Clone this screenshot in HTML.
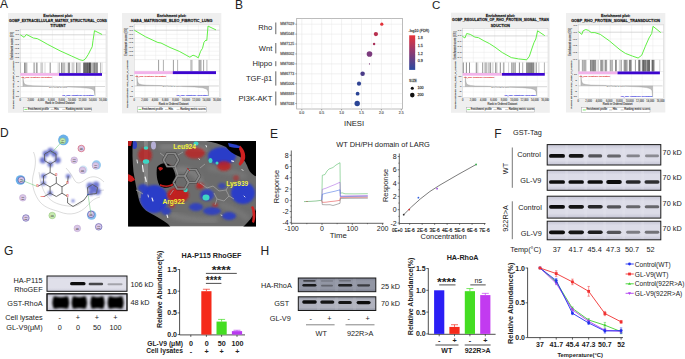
<!DOCTYPE html><html><head><meta charset="utf-8"><style>html,body{margin:0;padding:0;background:#fff;}body{width:685px;height:359px;overflow:hidden;position:relative;font-family:"Liberation Sans", sans-serif;}svg text{font-family:"Liberation Sans", sans-serif;}</style></head><body><svg width="685" height="359" viewBox="0 0 685 359" style="position:absolute;left:0;top:0;font-family:'Liberation Sans', sans-serif">
<rect x="0.00" y="0.00" width="685.00" height="359.00" fill="#ffffff" stroke="none" stroke-width="0" />
<text x="0.00" y="4.35" font-size="12" text-anchor="start" font-weight="normal" fill="#222" dominant-baseline="central" >A</text>
<text x="235.00" y="4.65" font-size="12" text-anchor="start" font-weight="normal" fill="#222" dominant-baseline="central" >B</text>
<text x="431.90" y="5.00" font-size="11.5" text-anchor="start" font-weight="normal" fill="#222" dominant-baseline="central" >C</text>
<text x="0.00" y="133.35" font-size="12" text-anchor="start" font-weight="normal" fill="#222" dominant-baseline="central" >D</text>
<text x="269.90" y="134.00" font-size="12" text-anchor="start" font-weight="normal" fill="#222" dominant-baseline="central" >E</text>
<rect x="8.00" y="13.00" width="100.00" height="99.80" fill="#efefef" stroke="none" stroke-width="0" />
<text x="58.00" y="15.60" font-size="3.7" text-anchor="middle" font-weight="bold" fill="#111" dominant-baseline="central"  stroke="#111" stroke-width="0.259" stroke-opacity="0.6">Enrichment plot:</text>
<text x="58.00" y="20.60" font-size="3.7" text-anchor="middle" font-weight="bold" fill="#111" dominant-baseline="central" textLength="98.0" lengthAdjust="spacingAndGlyphs" stroke="#111" stroke-width="0.259" stroke-opacity="0.6">GOMF_EXTRACELLULAR_MATRIX_STRUCTURAL_CONS</text>
<text x="58.00" y="26.20" font-size="3.7" text-anchor="middle" font-weight="bold" fill="#111" dominant-baseline="central"  stroke="#111" stroke-width="0.259" stroke-opacity="0.6">TITUENT</text>
<rect x="20.30" y="29.30" width="85.70" height="67.90" fill="#ffffff" stroke="#bbbbbb" stroke-width="0.3" />
<line x1="31.01" y1="29.30" x2="31.01" y2="62.30" stroke="#e6e6e6" stroke-width="0.4" />
<line x1="31.01" y1="75.80" x2="31.01" y2="97.20" stroke="#eeeeee" stroke-width="0.4" />
<line x1="41.73" y1="29.30" x2="41.73" y2="62.30" stroke="#e6e6e6" stroke-width="0.4" />
<line x1="41.73" y1="75.80" x2="41.73" y2="97.20" stroke="#eeeeee" stroke-width="0.4" />
<line x1="52.44" y1="29.30" x2="52.44" y2="62.30" stroke="#e6e6e6" stroke-width="0.4" />
<line x1="52.44" y1="75.80" x2="52.44" y2="97.20" stroke="#eeeeee" stroke-width="0.4" />
<line x1="63.15" y1="29.30" x2="63.15" y2="62.30" stroke="#e6e6e6" stroke-width="0.4" />
<line x1="63.15" y1="75.80" x2="63.15" y2="97.20" stroke="#eeeeee" stroke-width="0.4" />
<line x1="73.86" y1="29.30" x2="73.86" y2="62.30" stroke="#e6e6e6" stroke-width="0.4" />
<line x1="73.86" y1="75.80" x2="73.86" y2="97.20" stroke="#eeeeee" stroke-width="0.4" />
<line x1="84.58" y1="29.30" x2="84.58" y2="62.30" stroke="#e6e6e6" stroke-width="0.4" />
<line x1="84.58" y1="75.80" x2="84.58" y2="97.20" stroke="#eeeeee" stroke-width="0.4" />
<line x1="95.29" y1="29.30" x2="95.29" y2="62.30" stroke="#e6e6e6" stroke-width="0.4" />
<line x1="95.29" y1="75.80" x2="95.29" y2="97.20" stroke="#eeeeee" stroke-width="0.4" />
<line x1="20.30" y1="30.20" x2="106.00" y2="30.20" stroke="#e6e6e6" stroke-width="0.4" />
<line x1="20.30" y1="34.80" x2="106.00" y2="34.80" stroke="#e6e6e6" stroke-width="0.4" />
<line x1="20.30" y1="39.40" x2="106.00" y2="39.40" stroke="#e6e6e6" stroke-width="0.4" />
<line x1="20.30" y1="44.00" x2="106.00" y2="44.00" stroke="#e6e6e6" stroke-width="0.4" />
<line x1="20.30" y1="48.60" x2="106.00" y2="48.60" stroke="#e6e6e6" stroke-width="0.4" />
<line x1="20.30" y1="53.20" x2="106.00" y2="53.20" stroke="#e6e6e6" stroke-width="0.4" />
<line x1="20.30" y1="57.80" x2="106.00" y2="57.80" stroke="#e6e6e6" stroke-width="0.4" />
<line x1="20.30" y1="81.15" x2="106.00" y2="81.15" stroke="#eeeeee" stroke-width="0.4" />
<line x1="20.30" y1="86.50" x2="106.00" y2="86.50" stroke="#eeeeee" stroke-width="0.4" />
<line x1="20.30" y1="91.85" x2="106.00" y2="91.85" stroke="#eeeeee" stroke-width="0.4" />
<line x1="20.30" y1="62.30" x2="106.00" y2="62.30" stroke="#cccccc" stroke-width="0.3" />
<line x1="20.30" y1="73.10" x2="106.00" y2="73.10" stroke="#cccccc" stroke-width="0.3" />
<line x1="20.30" y1="34.80" x2="106.00" y2="34.80" stroke="#999999" stroke-width="0.3" />
<line x1="20.60" y1="62.60" x2="20.60" y2="73.10" stroke="#000" stroke-width="0.45" stroke-opacity="0.34"/>
<line x1="24.60" y1="62.60" x2="24.60" y2="73.10" stroke="#000" stroke-width="0.45" stroke-opacity="1.00"/>
<line x1="25.40" y1="62.60" x2="25.40" y2="73.10" stroke="#000" stroke-width="0.45" stroke-opacity="0.57"/>
<line x1="26.20" y1="62.60" x2="26.20" y2="73.10" stroke="#000" stroke-width="0.45" stroke-opacity="0.57"/>
<line x1="27.00" y1="62.60" x2="27.00" y2="73.10" stroke="#000" stroke-width="0.45" stroke-opacity="0.46"/>
<line x1="34.10" y1="62.60" x2="34.10" y2="73.10" stroke="#000" stroke-width="0.45" stroke-opacity="1.00"/>
<line x1="36.40" y1="62.60" x2="36.40" y2="73.10" stroke="#000" stroke-width="0.45" stroke-opacity="0.69"/>
<line x1="37.20" y1="62.60" x2="37.20" y2="73.10" stroke="#000" stroke-width="0.45" stroke-opacity="0.69"/>
<line x1="40.70" y1="62.60" x2="40.70" y2="73.10" stroke="#000" stroke-width="0.45" stroke-opacity="0.34"/>
<line x1="41.70" y1="62.60" x2="41.70" y2="73.10" stroke="#000" stroke-width="0.45" stroke-opacity="0.46"/>
<line x1="42.60" y1="62.60" x2="42.60" y2="73.10" stroke="#000" stroke-width="0.45" stroke-opacity="0.40"/>
<line x1="45.00" y1="62.60" x2="45.00" y2="73.10" stroke="#000" stroke-width="0.45" stroke-opacity="0.34"/>
<line x1="50.20" y1="62.60" x2="50.20" y2="73.10" stroke="#000" stroke-width="0.45" stroke-opacity="0.98"/>
<line x1="58.10" y1="62.60" x2="58.10" y2="73.10" stroke="#000" stroke-width="0.45" stroke-opacity="0.34"/>
<line x1="59.40" y1="62.60" x2="59.40" y2="73.10" stroke="#000" stroke-width="0.45" stroke-opacity="0.57"/>
<line x1="61.50" y1="62.60" x2="61.50" y2="73.10" stroke="#000" stroke-width="0.45" stroke-opacity="0.92"/>
<line x1="62.50" y1="62.60" x2="62.50" y2="73.10" stroke="#000" stroke-width="0.45" stroke-opacity="0.57"/>
<line x1="63.50" y1="62.60" x2="63.50" y2="73.10" stroke="#000" stroke-width="0.45" stroke-opacity="0.57"/>
<line x1="64.50" y1="62.60" x2="64.50" y2="73.10" stroke="#000" stroke-width="0.45" stroke-opacity="0.57"/>
<line x1="65.90" y1="62.60" x2="65.90" y2="73.10" stroke="#000" stroke-width="0.45" stroke-opacity="0.34"/>
<line x1="68.20" y1="62.60" x2="68.20" y2="73.10" stroke="#000" stroke-width="0.45" stroke-opacity="0.92"/>
<line x1="69.00" y1="62.60" x2="69.00" y2="73.10" stroke="#000" stroke-width="0.45" stroke-opacity="0.92"/>
<line x1="69.60" y1="62.60" x2="69.60" y2="73.10" stroke="#000" stroke-width="0.45" stroke-opacity="0.69"/>
<line x1="72.00" y1="62.60" x2="72.00" y2="73.10" stroke="#000" stroke-width="0.45" stroke-opacity="0.40"/>
<line x1="73.00" y1="62.60" x2="73.00" y2="73.10" stroke="#000" stroke-width="0.45" stroke-opacity="0.46"/>
<line x1="74.00" y1="62.60" x2="74.00" y2="73.10" stroke="#000" stroke-width="0.45" stroke-opacity="0.40"/>
<line x1="76.50" y1="62.60" x2="76.50" y2="73.10" stroke="#000" stroke-width="0.45" stroke-opacity="0.98"/>
<line x1="77.50" y1="62.60" x2="77.50" y2="73.10" stroke="#000" stroke-width="0.45" stroke-opacity="0.46"/>
<line x1="78.50" y1="62.60" x2="78.50" y2="73.10" stroke="#000" stroke-width="0.45" stroke-opacity="0.40"/>
<line x1="79.50" y1="62.60" x2="79.50" y2="73.10" stroke="#000" stroke-width="0.45" stroke-opacity="0.46"/>
<line x1="80.50" y1="62.60" x2="80.50" y2="73.10" stroke="#000" stroke-width="0.45" stroke-opacity="0.34"/>
<line x1="83.57" y1="62.60" x2="83.57" y2="73.10" stroke="#000" stroke-width="0.45" stroke-opacity="0.98"/>
<line x1="84.18" y1="62.60" x2="84.18" y2="73.10" stroke="#000" stroke-width="0.45" stroke-opacity="0.78"/>
<line x1="84.61" y1="62.60" x2="84.61" y2="73.10" stroke="#000" stroke-width="0.45" stroke-opacity="0.85"/>
<line x1="85.12" y1="62.60" x2="85.12" y2="73.10" stroke="#000" stroke-width="0.45" stroke-opacity="0.96"/>
<line x1="85.49" y1="62.60" x2="85.49" y2="73.10" stroke="#000" stroke-width="0.45" stroke-opacity="0.70"/>
<line x1="86.13" y1="62.60" x2="86.13" y2="73.10" stroke="#000" stroke-width="0.45" stroke-opacity="0.84"/>
<line x1="86.59" y1="62.60" x2="86.59" y2="73.10" stroke="#000" stroke-width="0.45" stroke-opacity="0.69"/>
<line x1="87.01" y1="62.60" x2="87.01" y2="73.10" stroke="#000" stroke-width="0.45" stroke-opacity="0.94"/>
<line x1="87.45" y1="62.60" x2="87.45" y2="73.10" stroke="#000" stroke-width="0.45" stroke-opacity="1.00"/>
<line x1="88.07" y1="62.60" x2="88.07" y2="73.10" stroke="#000" stroke-width="0.45" stroke-opacity="0.70"/>
<line x1="88.38" y1="62.60" x2="88.38" y2="73.10" stroke="#000" stroke-width="0.45" stroke-opacity="0.88"/>
<line x1="89.05" y1="62.60" x2="89.05" y2="73.10" stroke="#000" stroke-width="0.45" stroke-opacity="0.82"/>
<line x1="89.43" y1="62.60" x2="89.43" y2="73.10" stroke="#000" stroke-width="0.45" stroke-opacity="1.00"/>
<line x1="89.76" y1="62.60" x2="89.76" y2="73.10" stroke="#000" stroke-width="0.45" stroke-opacity="1.00"/>
<line x1="90.20" y1="62.60" x2="90.20" y2="73.10" stroke="#000" stroke-width="0.45" stroke-opacity="1.00"/>
<line x1="90.67" y1="62.60" x2="90.67" y2="73.10" stroke="#000" stroke-width="0.45" stroke-opacity="0.82"/>
<line x1="91.12" y1="62.60" x2="91.12" y2="73.10" stroke="#000" stroke-width="0.45" stroke-opacity="0.91"/>
<line x1="92.56" y1="62.60" x2="92.56" y2="73.10" stroke="#000" stroke-width="0.45" stroke-opacity="0.56"/>
<line x1="93.28" y1="62.60" x2="93.28" y2="73.10" stroke="#000" stroke-width="0.45" stroke-opacity="0.71"/>
<line x1="93.86" y1="62.60" x2="93.86" y2="73.10" stroke="#000" stroke-width="0.45" stroke-opacity="0.60"/>
<line x1="94.54" y1="62.60" x2="94.54" y2="73.10" stroke="#000" stroke-width="0.45" stroke-opacity="0.79"/>
<line x1="94.97" y1="62.60" x2="94.97" y2="73.10" stroke="#000" stroke-width="0.45" stroke-opacity="0.64"/>
<line x1="95.71" y1="62.60" x2="95.71" y2="73.10" stroke="#000" stroke-width="0.45" stroke-opacity="0.75"/>
<line x1="96.36" y1="62.60" x2="96.36" y2="73.10" stroke="#000" stroke-width="0.45" stroke-opacity="0.67"/>
<line x1="96.95" y1="62.60" x2="96.95" y2="73.10" stroke="#000" stroke-width="0.45" stroke-opacity="0.74"/>
<line x1="97.46" y1="62.60" x2="97.46" y2="73.10" stroke="#000" stroke-width="0.45" stroke-opacity="0.71"/>
<line x1="100.50" y1="62.60" x2="100.50" y2="73.10" stroke="#000" stroke-width="0.45" stroke-opacity="0.57"/>
<line x1="102.00" y1="62.60" x2="102.00" y2="73.10" stroke="#000" stroke-width="0.45" stroke-opacity="0.34"/>
<rect x="20.30" y="73.10" width="38.70" height="2.70" fill="#f2b3ea" stroke="none" stroke-width="0" />
<rect x="59.00" y="73.10" width="43.00" height="2.70" fill="#3d05cf" stroke="none" stroke-width="0" />
<path d="M22.90,86.50 L22.90,76.60 L23.40,81.00 L24.10,83.30 L25.40,84.50 L27.90,85.20 L32.90,85.70 L55.34,86.30 L62.56,86.80 L80.58,87.50 L89.00,88.30 L93.00,89.50 L94.40,91.50 L95.00,95.70 L95.00,86.50" stroke="#777" stroke-width="0.25" fill="#bdbdbd" />
<line x1="20.30" y1="86.50" x2="105.00" y2="86.50" stroke="#888" stroke-width="0.3" />
<text x="58.00" y="86.50" font-size="2.2" text-anchor="middle" font-weight="normal" fill="#555" dominant-baseline="central" style="paint-order:stroke" stroke="#fff" stroke-width="0.6">Zero cross at 7861</text>
<text x="21.30" y="77.40" font-size="2.3" text-anchor="start" font-weight="normal" fill="#e03030" dominant-baseline="central"  stroke="#e03030" stroke-width="0.161" stroke-opacity="0.6">'na_pos' (positively correlated)</text>
<text x="78.00" y="95.00" font-size="2.3" text-anchor="middle" font-weight="normal" fill="#3030e0" dominant-baseline="central"  stroke="#3030e0" stroke-width="0.161" stroke-opacity="0.6">'na_neg' (negatively correlated)</text>
<path d="M20.30,34.80 L24.10,37.30 L26.40,34.50 L28.00,35.30 L33.30,38.00 L37.20,38.60 L41.00,40.60 L47.90,44.50 L60.00,50.80 L71.50,56.00 L79.90,59.80 L83.00,60.50 L85.30,59.00 L88.30,54.40 L90.60,49.80 L92.20,46.80 L93.00,40.60 L94.50,30.70 L102.10,34.50" stroke="#5aee3c" stroke-width="0.95" fill="none" stroke-linejoin="round"/>
<text x="11.90" y="45.80" font-size="2.8" text-anchor="middle" font-weight="normal" fill="#444" dominant-baseline="central" transform="rotate(-90 11.9 45.8)" stroke="#444" stroke-width="0.196" stroke-opacity="0.6">Enrichment score (ES)</text>
<text x="13.20" y="84.65" font-size="2.5" text-anchor="middle" font-weight="normal" fill="#444" dominant-baseline="central" transform="rotate(-90 13.2 84.7)" stroke="#444" stroke-width="0.175" stroke-opacity="0.6">Ranked list metric (log2_Ratio_of_Classes)</text>
<text x="18.90" y="30.20" font-size="2.5" text-anchor="end" font-weight="normal" fill="#555" dominant-baseline="central"  stroke="#555" stroke-width="0.175" stroke-opacity="0.6">0.1</text>
<line x1="19.50" y1="30.20" x2="20.30" y2="30.20" stroke="#777" stroke-width="0.25" />
<text x="18.90" y="34.80" font-size="2.5" text-anchor="end" font-weight="normal" fill="#555" dominant-baseline="central"  stroke="#555" stroke-width="0.175" stroke-opacity="0.6">0.0</text>
<line x1="19.50" y1="34.80" x2="20.30" y2="34.80" stroke="#777" stroke-width="0.25" />
<text x="18.90" y="39.40" font-size="2.5" text-anchor="end" font-weight="normal" fill="#555" dominant-baseline="central"  stroke="#555" stroke-width="0.175" stroke-opacity="0.6">-0.1</text>
<line x1="19.50" y1="39.40" x2="20.30" y2="39.40" stroke="#777" stroke-width="0.25" />
<text x="18.90" y="44.00" font-size="2.5" text-anchor="end" font-weight="normal" fill="#555" dominant-baseline="central"  stroke="#555" stroke-width="0.175" stroke-opacity="0.6">-0.2</text>
<line x1="19.50" y1="44.00" x2="20.30" y2="44.00" stroke="#777" stroke-width="0.25" />
<text x="18.90" y="48.60" font-size="2.5" text-anchor="end" font-weight="normal" fill="#555" dominant-baseline="central"  stroke="#555" stroke-width="0.175" stroke-opacity="0.6">-0.3</text>
<line x1="19.50" y1="48.60" x2="20.30" y2="48.60" stroke="#777" stroke-width="0.25" />
<text x="18.90" y="53.20" font-size="2.5" text-anchor="end" font-weight="normal" fill="#555" dominant-baseline="central"  stroke="#555" stroke-width="0.175" stroke-opacity="0.6">-0.4</text>
<line x1="19.50" y1="53.20" x2="20.30" y2="53.20" stroke="#777" stroke-width="0.25" />
<text x="18.90" y="57.80" font-size="2.5" text-anchor="end" font-weight="normal" fill="#555" dominant-baseline="central"  stroke="#555" stroke-width="0.175" stroke-opacity="0.6">-0.5</text>
<line x1="19.50" y1="57.80" x2="20.30" y2="57.80" stroke="#777" stroke-width="0.25" />
<text x="18.90" y="62.40" font-size="2.5" text-anchor="end" font-weight="normal" fill="#555" dominant-baseline="central"  stroke="#555" stroke-width="0.175" stroke-opacity="0.6">-0.6</text>
<line x1="19.50" y1="62.40" x2="20.30" y2="62.40" stroke="#777" stroke-width="0.25" />
<text x="18.90" y="76.55" font-size="2.5" text-anchor="end" font-weight="normal" fill="#555" dominant-baseline="central"  stroke="#555" stroke-width="0.175" stroke-opacity="0.6">10</text>
<text x="18.90" y="81.52" font-size="2.5" text-anchor="end" font-weight="normal" fill="#555" dominant-baseline="central"  stroke="#555" stroke-width="0.175" stroke-opacity="0.6">5</text>
<text x="18.90" y="86.50" font-size="2.5" text-anchor="end" font-weight="normal" fill="#555" dominant-baseline="central"  stroke="#555" stroke-width="0.175" stroke-opacity="0.6">0</text>
<text x="18.90" y="91.48" font-size="2.5" text-anchor="end" font-weight="normal" fill="#555" dominant-baseline="central"  stroke="#555" stroke-width="0.175" stroke-opacity="0.6">-5</text>
<text x="18.90" y="96.45" font-size="2.5" text-anchor="end" font-weight="normal" fill="#555" dominant-baseline="central"  stroke="#555" stroke-width="0.175" stroke-opacity="0.6">-10</text>
<text x="20.30" y="100.20" font-size="2.6" text-anchor="middle" font-weight="normal" fill="#555" dominant-baseline="central"  stroke="#555" stroke-width="0.182" stroke-opacity="0.6">0</text>
<text x="30.65" y="100.20" font-size="2.6" text-anchor="middle" font-weight="normal" fill="#555" dominant-baseline="central"  stroke="#555" stroke-width="0.182" stroke-opacity="0.6">2,000</text>
<text x="41.00" y="100.20" font-size="2.6" text-anchor="middle" font-weight="normal" fill="#555" dominant-baseline="central"  stroke="#555" stroke-width="0.182" stroke-opacity="0.6">4,000</text>
<text x="51.34" y="100.20" font-size="2.6" text-anchor="middle" font-weight="normal" fill="#555" dominant-baseline="central"  stroke="#555" stroke-width="0.182" stroke-opacity="0.6">6,000</text>
<text x="61.69" y="100.20" font-size="2.6" text-anchor="middle" font-weight="normal" fill="#555" dominant-baseline="central"  stroke="#555" stroke-width="0.182" stroke-opacity="0.6">8,000</text>
<text x="72.04" y="100.20" font-size="2.6" text-anchor="middle" font-weight="normal" fill="#555" dominant-baseline="central"  stroke="#555" stroke-width="0.182" stroke-opacity="0.6">10,000</text>
<text x="82.39" y="100.20" font-size="2.6" text-anchor="middle" font-weight="normal" fill="#555" dominant-baseline="central"  stroke="#555" stroke-width="0.182" stroke-opacity="0.6">12,000</text>
<text x="92.74" y="100.20" font-size="2.6" text-anchor="middle" font-weight="normal" fill="#555" dominant-baseline="central"  stroke="#555" stroke-width="0.182" stroke-opacity="0.6">14,000</text>
<text x="103.09" y="100.20" font-size="2.6" text-anchor="middle" font-weight="normal" fill="#555" dominant-baseline="central"  stroke="#555" stroke-width="0.182" stroke-opacity="0.6">16,000</text>
<text x="60.00" y="103.80" font-size="2.7" text-anchor="middle" font-weight="normal" fill="#444" dominant-baseline="central"  stroke="#444" stroke-width="0.189" stroke-opacity="0.6">Rank in Ordered Dataset</text>
<rect x="23.40" y="107.40" width="68.20" height="4.00" fill="#fff" stroke="#888" stroke-width="0.35" />
<line x1="24.40" y1="109.40" x2="27.40" y2="109.40" stroke="#55e64a" stroke-width="0.8" />
<text x="28.00" y="109.40" font-size="2.6" text-anchor="start" font-weight="normal" fill="#333" dominant-baseline="central"  stroke="#333" stroke-width="0.182" stroke-opacity="0.6">Enrichment profile</text>
<line x1="50.68" y1="109.40" x2="53.68" y2="109.40" stroke="#444" stroke-width="0.3" />
<text x="54.28" y="109.40" font-size="2.6" text-anchor="start" font-weight="normal" fill="#333" dominant-baseline="central"  stroke="#333" stroke-width="0.182" stroke-opacity="0.6">Hits</text>
<line x1="62.27" y1="109.40" x2="65.27" y2="109.40" stroke="#bbb" stroke-width="0.8" />
<text x="65.87" y="109.40" font-size="2.6" text-anchor="start" font-weight="normal" fill="#333" dominant-baseline="central"  stroke="#333" stroke-width="0.182" stroke-opacity="0.6">Ranking metric scores</text>
<rect x="122.00" y="13.00" width="99.30" height="100.40" fill="#efefef" stroke="none" stroke-width="0" />
<text x="171.65" y="15.80" font-size="3.7" text-anchor="middle" font-weight="bold" fill="#111" dominant-baseline="central"  stroke="#111" stroke-width="0.259" stroke-opacity="0.6">Enrichment plot:</text>
<text x="171.65" y="20.80" font-size="3.7" text-anchor="middle" font-weight="bold" fill="#111" dominant-baseline="central" textLength="81.5" lengthAdjust="spacingAndGlyphs" stroke="#111" stroke-width="0.259" stroke-opacity="0.6">NABA_MATRISOME_BLEO_FIBROTIC_LUNG</text>
<rect x="134.30" y="24.20" width="85.50" height="73.30" fill="#ffffff" stroke="#bbbbbb" stroke-width="0.3" />
<line x1="144.99" y1="24.20" x2="144.99" y2="59.60" stroke="#e6e6e6" stroke-width="0.4" />
<line x1="144.99" y1="74.10" x2="144.99" y2="97.50" stroke="#eeeeee" stroke-width="0.4" />
<line x1="155.68" y1="24.20" x2="155.68" y2="59.60" stroke="#e6e6e6" stroke-width="0.4" />
<line x1="155.68" y1="74.10" x2="155.68" y2="97.50" stroke="#eeeeee" stroke-width="0.4" />
<line x1="166.36" y1="24.20" x2="166.36" y2="59.60" stroke="#e6e6e6" stroke-width="0.4" />
<line x1="166.36" y1="74.10" x2="166.36" y2="97.50" stroke="#eeeeee" stroke-width="0.4" />
<line x1="177.05" y1="24.20" x2="177.05" y2="59.60" stroke="#e6e6e6" stroke-width="0.4" />
<line x1="177.05" y1="74.10" x2="177.05" y2="97.50" stroke="#eeeeee" stroke-width="0.4" />
<line x1="187.74" y1="24.20" x2="187.74" y2="59.60" stroke="#e6e6e6" stroke-width="0.4" />
<line x1="187.74" y1="74.10" x2="187.74" y2="97.50" stroke="#eeeeee" stroke-width="0.4" />
<line x1="198.43" y1="24.20" x2="198.43" y2="59.60" stroke="#e6e6e6" stroke-width="0.4" />
<line x1="198.43" y1="74.10" x2="198.43" y2="97.50" stroke="#eeeeee" stroke-width="0.4" />
<line x1="209.11" y1="24.20" x2="209.11" y2="59.60" stroke="#e6e6e6" stroke-width="0.4" />
<line x1="209.11" y1="74.10" x2="209.11" y2="97.50" stroke="#eeeeee" stroke-width="0.4" />
<line x1="134.30" y1="26.00" x2="219.80" y2="26.00" stroke="#e6e6e6" stroke-width="0.4" />
<line x1="134.30" y1="30.20" x2="219.80" y2="30.20" stroke="#e6e6e6" stroke-width="0.4" />
<line x1="134.30" y1="34.40" x2="219.80" y2="34.40" stroke="#e6e6e6" stroke-width="0.4" />
<line x1="134.30" y1="38.60" x2="219.80" y2="38.60" stroke="#e6e6e6" stroke-width="0.4" />
<line x1="134.30" y1="42.80" x2="219.80" y2="42.80" stroke="#e6e6e6" stroke-width="0.4" />
<line x1="134.30" y1="47.00" x2="219.80" y2="47.00" stroke="#e6e6e6" stroke-width="0.4" />
<line x1="134.30" y1="51.20" x2="219.80" y2="51.20" stroke="#e6e6e6" stroke-width="0.4" />
<line x1="134.30" y1="55.40" x2="219.80" y2="55.40" stroke="#e6e6e6" stroke-width="0.4" />
<line x1="134.30" y1="79.95" x2="219.80" y2="79.95" stroke="#eeeeee" stroke-width="0.4" />
<line x1="134.30" y1="85.80" x2="219.80" y2="85.80" stroke="#eeeeee" stroke-width="0.4" />
<line x1="134.30" y1="91.65" x2="219.80" y2="91.65" stroke="#eeeeee" stroke-width="0.4" />
<line x1="134.30" y1="59.60" x2="219.80" y2="59.60" stroke="#cccccc" stroke-width="0.3" />
<line x1="134.30" y1="71.20" x2="219.80" y2="71.20" stroke="#cccccc" stroke-width="0.3" />
<line x1="134.30" y1="30.20" x2="219.80" y2="30.20" stroke="#999999" stroke-width="0.3" />
<line x1="158.60" y1="59.90" x2="158.60" y2="71.20" stroke="#000" stroke-width="0.45" stroke-opacity="0.86"/>
<line x1="163.40" y1="59.90" x2="163.40" y2="71.20" stroke="#000" stroke-width="0.45" stroke-opacity="0.69"/>
<line x1="173.40" y1="59.90" x2="173.40" y2="71.20" stroke="#000" stroke-width="0.45" stroke-opacity="0.86"/>
<line x1="177.60" y1="59.90" x2="177.60" y2="71.20" stroke="#000" stroke-width="0.45" stroke-opacity="0.63"/>
<line x1="190.60" y1="59.90" x2="190.60" y2="71.20" stroke="#000" stroke-width="0.45" stroke-opacity="0.46"/>
<line x1="191.50" y1="59.90" x2="191.50" y2="71.20" stroke="#000" stroke-width="0.45" stroke-opacity="0.46"/>
<line x1="192.30" y1="59.90" x2="192.30" y2="71.20" stroke="#000" stroke-width="0.45" stroke-opacity="0.40"/>
<line x1="198.80" y1="59.90" x2="198.80" y2="71.20" stroke="#000" stroke-width="0.45" stroke-opacity="0.57"/>
<line x1="199.60" y1="59.90" x2="199.60" y2="71.20" stroke="#000" stroke-width="0.45" stroke-opacity="0.63"/>
<line x1="200.40" y1="59.90" x2="200.40" y2="71.20" stroke="#000" stroke-width="0.45" stroke-opacity="0.57"/>
<line x1="201.20" y1="59.90" x2="201.20" y2="71.20" stroke="#000" stroke-width="0.45" stroke-opacity="0.57"/>
<line x1="203.60" y1="59.90" x2="203.60" y2="71.20" stroke="#000" stroke-width="0.45" stroke-opacity="0.80"/>
<line x1="206.90" y1="59.90" x2="206.90" y2="71.20" stroke="#000" stroke-width="0.45" stroke-opacity="0.63"/>
<rect x="134.30" y="71.20" width="38.50" height="2.90" fill="#f2b3ea" stroke="none" stroke-width="0" />
<rect x="172.80" y="71.20" width="43.20" height="2.90" fill="#3d05cf" stroke="none" stroke-width="0" />
<path d="M136.90,86.00 L136.90,74.90 L137.40,80.50 L138.10,82.80 L139.40,84.00 L141.90,84.70 L146.90,85.20 L169.12,85.80 L176.28,86.30 L194.18,87.00 L202.50,87.80 L206.50,89.00 L207.90,91.00 L208.50,96.00 L208.50,86.00" stroke="#777" stroke-width="0.25" fill="#bdbdbd" />
<line x1="134.30" y1="86.00" x2="218.80" y2="86.00" stroke="#888" stroke-width="0.3" />
<text x="171.65" y="86.00" font-size="2.2" text-anchor="middle" font-weight="normal" fill="#555" dominant-baseline="central" style="paint-order:stroke" stroke="#fff" stroke-width="0.6">Zero cross at 7861</text>
<text x="135.30" y="75.70" font-size="2.3" text-anchor="start" font-weight="normal" fill="#e03030" dominant-baseline="central"  stroke="#e03030" stroke-width="0.161" stroke-opacity="0.6">'na_pos' (positively correlated)</text>
<text x="192.20" y="95.30" font-size="2.3" text-anchor="middle" font-weight="normal" fill="#3030e0" dominant-baseline="central"  stroke="#3030e0" stroke-width="0.161" stroke-opacity="0.6">'na_neg' (negatively correlated)</text>
<path d="M134.30,30.20 L145.60,36.80 L157.90,42.50 L161.00,43.00 L170.00,47.50 L179.20,51.30 L189.90,57.20 L193.00,55.20 L195.30,56.00 L198.30,57.80 L200.60,51.30 L202.50,48.30 L204.00,42.20 L206.00,39.90 L206.80,40.60 L208.00,26.10 L216.00,29.90" stroke="#5aee3c" stroke-width="0.95" fill="none" stroke-linejoin="round"/>
<text x="125.70" y="41.90" font-size="2.8" text-anchor="middle" font-weight="normal" fill="#444" dominant-baseline="central" transform="rotate(-90 125.7 41.9)" stroke="#444" stroke-width="0.196" stroke-opacity="0.6">Enrichment score (ES)</text>
<text x="127.00" y="83.85" font-size="2.5" text-anchor="middle" font-weight="normal" fill="#444" dominant-baseline="central" transform="rotate(-90 127.0 83.8)" stroke="#444" stroke-width="0.175" stroke-opacity="0.6">Ranked list metric (log2_Ratio_of_Classes)</text>
<text x="132.90" y="26.00" font-size="2.5" text-anchor="end" font-weight="normal" fill="#555" dominant-baseline="central"  stroke="#555" stroke-width="0.175" stroke-opacity="0.6">0.1</text>
<line x1="133.50" y1="26.00" x2="134.30" y2="26.00" stroke="#777" stroke-width="0.25" />
<text x="132.90" y="30.20" font-size="2.5" text-anchor="end" font-weight="normal" fill="#555" dominant-baseline="central"  stroke="#555" stroke-width="0.175" stroke-opacity="0.6">0.0</text>
<line x1="133.50" y1="30.20" x2="134.30" y2="30.20" stroke="#777" stroke-width="0.25" />
<text x="132.90" y="34.40" font-size="2.5" text-anchor="end" font-weight="normal" fill="#555" dominant-baseline="central"  stroke="#555" stroke-width="0.175" stroke-opacity="0.6">-0.1</text>
<line x1="133.50" y1="34.40" x2="134.30" y2="34.40" stroke="#777" stroke-width="0.25" />
<text x="132.90" y="38.60" font-size="2.5" text-anchor="end" font-weight="normal" fill="#555" dominant-baseline="central"  stroke="#555" stroke-width="0.175" stroke-opacity="0.6">-0.2</text>
<line x1="133.50" y1="38.60" x2="134.30" y2="38.60" stroke="#777" stroke-width="0.25" />
<text x="132.90" y="42.80" font-size="2.5" text-anchor="end" font-weight="normal" fill="#555" dominant-baseline="central"  stroke="#555" stroke-width="0.175" stroke-opacity="0.6">-0.3</text>
<line x1="133.50" y1="42.80" x2="134.30" y2="42.80" stroke="#777" stroke-width="0.25" />
<text x="132.90" y="47.00" font-size="2.5" text-anchor="end" font-weight="normal" fill="#555" dominant-baseline="central"  stroke="#555" stroke-width="0.175" stroke-opacity="0.6">-0.4</text>
<line x1="133.50" y1="47.00" x2="134.30" y2="47.00" stroke="#777" stroke-width="0.25" />
<text x="132.90" y="51.20" font-size="2.5" text-anchor="end" font-weight="normal" fill="#555" dominant-baseline="central"  stroke="#555" stroke-width="0.175" stroke-opacity="0.6">-0.5</text>
<line x1="133.50" y1="51.20" x2="134.30" y2="51.20" stroke="#777" stroke-width="0.25" />
<text x="132.90" y="55.40" font-size="2.5" text-anchor="end" font-weight="normal" fill="#555" dominant-baseline="central"  stroke="#555" stroke-width="0.175" stroke-opacity="0.6">-0.6</text>
<line x1="133.50" y1="55.40" x2="134.30" y2="55.40" stroke="#777" stroke-width="0.25" />
<text x="132.90" y="75.12" font-size="2.5" text-anchor="end" font-weight="normal" fill="#555" dominant-baseline="central"  stroke="#555" stroke-width="0.175" stroke-opacity="0.6">10</text>
<text x="132.90" y="80.56" font-size="2.5" text-anchor="end" font-weight="normal" fill="#555" dominant-baseline="central"  stroke="#555" stroke-width="0.175" stroke-opacity="0.6">5</text>
<text x="132.90" y="86.00" font-size="2.5" text-anchor="end" font-weight="normal" fill="#555" dominant-baseline="central"  stroke="#555" stroke-width="0.175" stroke-opacity="0.6">0</text>
<text x="132.90" y="91.44" font-size="2.5" text-anchor="end" font-weight="normal" fill="#555" dominant-baseline="central"  stroke="#555" stroke-width="0.175" stroke-opacity="0.6">-5</text>
<text x="132.90" y="96.88" font-size="2.5" text-anchor="end" font-weight="normal" fill="#555" dominant-baseline="central"  stroke="#555" stroke-width="0.175" stroke-opacity="0.6">-10</text>
<text x="134.30" y="100.50" font-size="2.6" text-anchor="middle" font-weight="normal" fill="#555" dominant-baseline="central"  stroke="#555" stroke-width="0.182" stroke-opacity="0.6">0</text>
<text x="144.62" y="100.50" font-size="2.6" text-anchor="middle" font-weight="normal" fill="#555" dominant-baseline="central"  stroke="#555" stroke-width="0.182" stroke-opacity="0.6">2,000</text>
<text x="154.95" y="100.50" font-size="2.6" text-anchor="middle" font-weight="normal" fill="#555" dominant-baseline="central"  stroke="#555" stroke-width="0.182" stroke-opacity="0.6">4,000</text>
<text x="165.27" y="100.50" font-size="2.6" text-anchor="middle" font-weight="normal" fill="#555" dominant-baseline="central"  stroke="#555" stroke-width="0.182" stroke-opacity="0.6">6,000</text>
<text x="175.60" y="100.50" font-size="2.6" text-anchor="middle" font-weight="normal" fill="#555" dominant-baseline="central"  stroke="#555" stroke-width="0.182" stroke-opacity="0.6">8,000</text>
<text x="185.92" y="100.50" font-size="2.6" text-anchor="middle" font-weight="normal" fill="#555" dominant-baseline="central"  stroke="#555" stroke-width="0.182" stroke-opacity="0.6">10,000</text>
<text x="196.24" y="100.50" font-size="2.6" text-anchor="middle" font-weight="normal" fill="#555" dominant-baseline="central"  stroke="#555" stroke-width="0.182" stroke-opacity="0.6">12,000</text>
<text x="206.57" y="100.50" font-size="2.6" text-anchor="middle" font-weight="normal" fill="#555" dominant-baseline="central"  stroke="#555" stroke-width="0.182" stroke-opacity="0.6">14,000</text>
<text x="216.89" y="100.50" font-size="2.6" text-anchor="middle" font-weight="normal" fill="#555" dominant-baseline="central"  stroke="#555" stroke-width="0.182" stroke-opacity="0.6">16,000</text>
<text x="173.65" y="104.10" font-size="2.7" text-anchor="middle" font-weight="normal" fill="#444" dominant-baseline="central"  stroke="#444" stroke-width="0.189" stroke-opacity="0.6">Rank in Ordered Dataset</text>
<rect x="137.40" y="106.90" width="68.80" height="5.10" fill="#fff" stroke="#888" stroke-width="0.35" />
<line x1="138.40" y1="109.45" x2="141.40" y2="109.45" stroke="#55e64a" stroke-width="0.8" />
<text x="142.00" y="109.45" font-size="2.6" text-anchor="start" font-weight="normal" fill="#333" dominant-baseline="central"  stroke="#333" stroke-width="0.182" stroke-opacity="0.6">Enrichment profile</text>
<line x1="164.92" y1="109.45" x2="167.92" y2="109.45" stroke="#444" stroke-width="0.3" />
<text x="168.52" y="109.45" font-size="2.6" text-anchor="start" font-weight="normal" fill="#333" dominant-baseline="central"  stroke="#333" stroke-width="0.182" stroke-opacity="0.6">Hits</text>
<line x1="176.62" y1="109.45" x2="179.62" y2="109.45" stroke="#bbb" stroke-width="0.8" />
<text x="180.22" y="109.45" font-size="2.6" text-anchor="start" font-weight="normal" fill="#333" dominant-baseline="central"  stroke="#333" stroke-width="0.182" stroke-opacity="0.6">Ranking metric scores</text>
<rect x="451.00" y="12.70" width="98.80" height="100.10" fill="#efefef" stroke="none" stroke-width="0" />
<text x="500.40" y="15.50" font-size="3.7" text-anchor="middle" font-weight="bold" fill="#111" dominant-baseline="central"  stroke="#111" stroke-width="0.259" stroke-opacity="0.6">Enrichment plot:</text>
<text x="500.40" y="20.40" font-size="3.7" text-anchor="middle" font-weight="bold" fill="#111" dominant-baseline="central" textLength="96.8" lengthAdjust="spacingAndGlyphs" stroke="#111" stroke-width="0.259" stroke-opacity="0.6">GOBP_REGULATION_OF_RHO_PROTEIN_SIGNAL_TRAN</text>
<text x="500.40" y="26.00" font-size="3.7" text-anchor="middle" font-weight="bold" fill="#111" dominant-baseline="central"  stroke="#111" stroke-width="0.259" stroke-opacity="0.6">SDUCTION</text>
<rect x="462.70" y="28.60" width="85.30" height="69.00" fill="#ffffff" stroke="#bbbbbb" stroke-width="0.3" />
<line x1="473.36" y1="28.60" x2="473.36" y2="62.20" stroke="#e6e6e6" stroke-width="0.4" />
<line x1="473.36" y1="75.70" x2="473.36" y2="97.60" stroke="#eeeeee" stroke-width="0.4" />
<line x1="484.02" y1="28.60" x2="484.02" y2="62.20" stroke="#e6e6e6" stroke-width="0.4" />
<line x1="484.02" y1="75.70" x2="484.02" y2="97.60" stroke="#eeeeee" stroke-width="0.4" />
<line x1="494.69" y1="28.60" x2="494.69" y2="62.20" stroke="#e6e6e6" stroke-width="0.4" />
<line x1="494.69" y1="75.70" x2="494.69" y2="97.60" stroke="#eeeeee" stroke-width="0.4" />
<line x1="505.35" y1="28.60" x2="505.35" y2="62.20" stroke="#e6e6e6" stroke-width="0.4" />
<line x1="505.35" y1="75.70" x2="505.35" y2="97.60" stroke="#eeeeee" stroke-width="0.4" />
<line x1="516.01" y1="28.60" x2="516.01" y2="62.20" stroke="#e6e6e6" stroke-width="0.4" />
<line x1="516.01" y1="75.70" x2="516.01" y2="97.60" stroke="#eeeeee" stroke-width="0.4" />
<line x1="526.67" y1="28.60" x2="526.67" y2="62.20" stroke="#e6e6e6" stroke-width="0.4" />
<line x1="526.67" y1="75.70" x2="526.67" y2="97.60" stroke="#eeeeee" stroke-width="0.4" />
<line x1="537.34" y1="28.60" x2="537.34" y2="62.20" stroke="#e6e6e6" stroke-width="0.4" />
<line x1="537.34" y1="75.70" x2="537.34" y2="97.60" stroke="#eeeeee" stroke-width="0.4" />
<line x1="462.70" y1="30.40" x2="548.00" y2="30.40" stroke="#e6e6e6" stroke-width="0.4" />
<line x1="462.70" y1="35.90" x2="548.00" y2="35.90" stroke="#e6e6e6" stroke-width="0.4" />
<line x1="462.70" y1="41.40" x2="548.00" y2="41.40" stroke="#e6e6e6" stroke-width="0.4" />
<line x1="462.70" y1="46.90" x2="548.00" y2="46.90" stroke="#e6e6e6" stroke-width="0.4" />
<line x1="462.70" y1="52.40" x2="548.00" y2="52.40" stroke="#e6e6e6" stroke-width="0.4" />
<line x1="462.70" y1="57.90" x2="548.00" y2="57.90" stroke="#e6e6e6" stroke-width="0.4" />
<line x1="462.70" y1="81.17" x2="548.00" y2="81.17" stroke="#eeeeee" stroke-width="0.4" />
<line x1="462.70" y1="86.65" x2="548.00" y2="86.65" stroke="#eeeeee" stroke-width="0.4" />
<line x1="462.70" y1="92.12" x2="548.00" y2="92.12" stroke="#eeeeee" stroke-width="0.4" />
<line x1="462.70" y1="62.20" x2="548.00" y2="62.20" stroke="#cccccc" stroke-width="0.3" />
<line x1="462.70" y1="73.00" x2="548.00" y2="73.00" stroke="#cccccc" stroke-width="0.3" />
<line x1="462.70" y1="35.90" x2="548.00" y2="35.90" stroke="#999999" stroke-width="0.3" />
<line x1="463.30" y1="62.50" x2="463.30" y2="73.00" stroke="#000" stroke-width="0.45" stroke-opacity="1.00"/>
<line x1="466.40" y1="62.50" x2="466.40" y2="73.00" stroke="#000" stroke-width="0.45" stroke-opacity="1.00"/>
<line x1="469.50" y1="62.50" x2="469.50" y2="73.00" stroke="#000" stroke-width="0.45" stroke-opacity="0.92"/>
<line x1="476.30" y1="62.50" x2="476.30" y2="73.00" stroke="#000" stroke-width="0.45" stroke-opacity="1.00"/>
<line x1="477.80" y1="62.50" x2="477.80" y2="73.00" stroke="#000" stroke-width="0.45" stroke-opacity="0.46"/>
<line x1="482.70" y1="62.50" x2="482.70" y2="73.00" stroke="#000" stroke-width="0.45" stroke-opacity="0.92"/>
<line x1="484.70" y1="62.50" x2="484.70" y2="73.00" stroke="#000" stroke-width="0.45" stroke-opacity="0.46"/>
<line x1="485.50" y1="62.50" x2="485.50" y2="73.00" stroke="#000" stroke-width="0.45" stroke-opacity="0.46"/>
<line x1="486.30" y1="62.50" x2="486.30" y2="73.00" stroke="#000" stroke-width="0.45" stroke-opacity="0.46"/>
<line x1="487.00" y1="62.50" x2="487.00" y2="73.00" stroke="#000" stroke-width="0.45" stroke-opacity="0.46"/>
<line x1="489.00" y1="62.50" x2="489.00" y2="73.00" stroke="#000" stroke-width="0.45" stroke-opacity="0.92"/>
<line x1="490.60" y1="62.50" x2="490.60" y2="73.00" stroke="#000" stroke-width="0.45" stroke-opacity="0.92"/>
<line x1="492.90" y1="62.50" x2="492.90" y2="73.00" stroke="#000" stroke-width="0.45" stroke-opacity="0.46"/>
<line x1="495.50" y1="62.50" x2="495.50" y2="73.00" stroke="#000" stroke-width="0.45" stroke-opacity="0.80"/>
<line x1="496.80" y1="62.50" x2="496.80" y2="73.00" stroke="#000" stroke-width="0.45" stroke-opacity="0.69"/>
<line x1="500.30" y1="62.50" x2="500.30" y2="73.00" stroke="#000" stroke-width="0.45" stroke-opacity="1.00"/>
<line x1="503.40" y1="62.50" x2="503.40" y2="73.00" stroke="#000" stroke-width="0.45" stroke-opacity="0.69"/>
<line x1="504.30" y1="62.50" x2="504.30" y2="73.00" stroke="#000" stroke-width="0.45" stroke-opacity="0.40"/>
<line x1="508.60" y1="62.50" x2="508.60" y2="73.00" stroke="#000" stroke-width="0.45" stroke-opacity="0.40"/>
<line x1="511.50" y1="62.50" x2="511.50" y2="73.00" stroke="#000" stroke-width="0.45" stroke-opacity="0.69"/>
<line x1="512.50" y1="62.50" x2="512.50" y2="73.00" stroke="#000" stroke-width="0.45" stroke-opacity="0.57"/>
<line x1="513.50" y1="62.50" x2="513.50" y2="73.00" stroke="#000" stroke-width="0.45" stroke-opacity="0.69"/>
<line x1="514.50" y1="62.50" x2="514.50" y2="73.00" stroke="#000" stroke-width="0.45" stroke-opacity="0.57"/>
<line x1="515.50" y1="62.50" x2="515.50" y2="73.00" stroke="#000" stroke-width="0.45" stroke-opacity="0.69"/>
<line x1="519.40" y1="62.50" x2="519.40" y2="73.00" stroke="#000" stroke-width="0.45" stroke-opacity="1.00"/>
<line x1="522.70" y1="62.50" x2="522.70" y2="73.00" stroke="#000" stroke-width="0.45" stroke-opacity="0.69"/>
<line x1="526.50" y1="62.50" x2="526.50" y2="73.00" stroke="#000" stroke-width="0.45" stroke-opacity="0.80"/>
<line x1="527.30" y1="62.50" x2="527.30" y2="73.00" stroke="#000" stroke-width="0.45" stroke-opacity="0.92"/>
<line x1="528.20" y1="62.50" x2="528.20" y2="73.00" stroke="#000" stroke-width="0.45" stroke-opacity="1.00"/>
<line x1="529.00" y1="62.50" x2="529.00" y2="73.00" stroke="#000" stroke-width="0.45" stroke-opacity="0.92"/>
<line x1="529.80" y1="62.50" x2="529.80" y2="73.00" stroke="#000" stroke-width="0.45" stroke-opacity="1.00"/>
<line x1="530.60" y1="62.50" x2="530.60" y2="73.00" stroke="#000" stroke-width="0.45" stroke-opacity="0.92"/>
<line x1="531.50" y1="62.50" x2="531.50" y2="73.00" stroke="#000" stroke-width="0.45" stroke-opacity="0.92"/>
<line x1="532.30" y1="62.50" x2="532.30" y2="73.00" stroke="#000" stroke-width="0.45" stroke-opacity="1.00"/>
<line x1="533.20" y1="62.50" x2="533.20" y2="73.00" stroke="#000" stroke-width="0.45" stroke-opacity="0.92"/>
<line x1="533.90" y1="62.50" x2="533.90" y2="73.00" stroke="#000" stroke-width="0.45" stroke-opacity="0.92"/>
<line x1="536.20" y1="62.50" x2="536.20" y2="73.00" stroke="#000" stroke-width="0.45" stroke-opacity="1.00"/>
<line x1="538.90" y1="62.50" x2="538.90" y2="73.00" stroke="#000" stroke-width="0.45" stroke-opacity="0.46"/>
<line x1="544.40" y1="62.50" x2="544.40" y2="73.00" stroke="#000" stroke-width="0.45" stroke-opacity="0.69"/>
<rect x="462.70" y="73.00" width="39.30" height="2.70" fill="#f2b3ea" stroke="none" stroke-width="0" />
<rect x="502.00" y="73.00" width="42.80" height="2.70" fill="#3d05cf" stroke="none" stroke-width="0" />
<path d="M465.30,86.70 L465.30,76.50 L465.80,81.20 L466.50,83.50 L467.80,84.70 L470.30,85.40 L475.30,85.90 L497.43,86.50 L504.57,87.00 L522.42,87.70 L530.70,88.50 L534.70,89.70 L536.10,91.70 L536.70,96.10 L536.70,86.70" stroke="#777" stroke-width="0.25" fill="#bdbdbd" />
<line x1="462.70" y1="86.70" x2="547.00" y2="86.70" stroke="#888" stroke-width="0.3" />
<text x="500.40" y="86.70" font-size="2.2" text-anchor="middle" font-weight="normal" fill="#555" dominant-baseline="central" style="paint-order:stroke" stroke="#fff" stroke-width="0.6">Zero cross at 7861</text>
<text x="463.70" y="77.30" font-size="2.3" text-anchor="start" font-weight="normal" fill="#e03030" dominant-baseline="central"  stroke="#e03030" stroke-width="0.161" stroke-opacity="0.6">'na_pos' (positively correlated)</text>
<text x="520.20" y="95.40" font-size="2.3" text-anchor="middle" font-weight="normal" fill="#3030e0" dominant-baseline="central"  stroke="#3030e0" stroke-width="0.161" stroke-opacity="0.6">'na_neg' (negatively correlated)</text>
<path d="M462.30,36.20 L464.90,38.00 L466.70,33.50 L470.30,34.40 L474.90,37.10 L478.50,37.70 L483.90,40.80 L489.30,43.50 L495.00,47.20 L502.20,52.50 L511.30,57.60 L518.50,58.90 L526.70,59.80 L529.40,56.20 L532.10,48.00 L534.00,42.60 L535.80,39.00 L537.60,30.80 L544.80,35.70" stroke="#5aee3c" stroke-width="0.95" fill="none" stroke-linejoin="round"/>
<text x="454.60" y="45.40" font-size="2.8" text-anchor="middle" font-weight="normal" fill="#444" dominant-baseline="central" transform="rotate(-90 454.6 45.4)" stroke="#444" stroke-width="0.196" stroke-opacity="0.6">Enrichment score (ES)</text>
<text x="455.90" y="84.80" font-size="2.5" text-anchor="middle" font-weight="normal" fill="#444" dominant-baseline="central" transform="rotate(-90 455.9 84.8)" stroke="#444" stroke-width="0.175" stroke-opacity="0.6">Ranked list metric (log2_Ratio_of_Classes)</text>
<text x="461.30" y="30.40" font-size="2.5" text-anchor="end" font-weight="normal" fill="#555" dominant-baseline="central"  stroke="#555" stroke-width="0.175" stroke-opacity="0.6">0.1</text>
<line x1="461.90" y1="30.40" x2="462.70" y2="30.40" stroke="#777" stroke-width="0.25" />
<text x="461.30" y="35.90" font-size="2.5" text-anchor="end" font-weight="normal" fill="#555" dominant-baseline="central"  stroke="#555" stroke-width="0.175" stroke-opacity="0.6">0.0</text>
<line x1="461.90" y1="35.90" x2="462.70" y2="35.90" stroke="#777" stroke-width="0.25" />
<text x="461.30" y="41.40" font-size="2.5" text-anchor="end" font-weight="normal" fill="#555" dominant-baseline="central"  stroke="#555" stroke-width="0.175" stroke-opacity="0.6">-0.1</text>
<line x1="461.90" y1="41.40" x2="462.70" y2="41.40" stroke="#777" stroke-width="0.25" />
<text x="461.30" y="46.90" font-size="2.5" text-anchor="end" font-weight="normal" fill="#555" dominant-baseline="central"  stroke="#555" stroke-width="0.175" stroke-opacity="0.6">-0.2</text>
<line x1="461.90" y1="46.90" x2="462.70" y2="46.90" stroke="#777" stroke-width="0.25" />
<text x="461.30" y="52.40" font-size="2.5" text-anchor="end" font-weight="normal" fill="#555" dominant-baseline="central"  stroke="#555" stroke-width="0.175" stroke-opacity="0.6">-0.3</text>
<line x1="461.90" y1="52.40" x2="462.70" y2="52.40" stroke="#777" stroke-width="0.25" />
<text x="461.30" y="57.90" font-size="2.5" text-anchor="end" font-weight="normal" fill="#555" dominant-baseline="central"  stroke="#555" stroke-width="0.175" stroke-opacity="0.6">-0.4</text>
<line x1="461.90" y1="57.90" x2="462.70" y2="57.90" stroke="#777" stroke-width="0.25" />
<text x="461.30" y="76.51" font-size="2.5" text-anchor="end" font-weight="normal" fill="#555" dominant-baseline="central"  stroke="#555" stroke-width="0.175" stroke-opacity="0.6">10</text>
<text x="461.30" y="81.61" font-size="2.5" text-anchor="end" font-weight="normal" fill="#555" dominant-baseline="central"  stroke="#555" stroke-width="0.175" stroke-opacity="0.6">5</text>
<text x="461.30" y="86.70" font-size="2.5" text-anchor="end" font-weight="normal" fill="#555" dominant-baseline="central"  stroke="#555" stroke-width="0.175" stroke-opacity="0.6">0</text>
<text x="461.30" y="91.79" font-size="2.5" text-anchor="end" font-weight="normal" fill="#555" dominant-baseline="central"  stroke="#555" stroke-width="0.175" stroke-opacity="0.6">-5</text>
<text x="461.30" y="96.89" font-size="2.5" text-anchor="end" font-weight="normal" fill="#555" dominant-baseline="central"  stroke="#555" stroke-width="0.175" stroke-opacity="0.6">-10</text>
<text x="462.70" y="100.60" font-size="2.6" text-anchor="middle" font-weight="normal" fill="#555" dominant-baseline="central"  stroke="#555" stroke-width="0.182" stroke-opacity="0.6">0</text>
<text x="473.00" y="100.60" font-size="2.6" text-anchor="middle" font-weight="normal" fill="#555" dominant-baseline="central"  stroke="#555" stroke-width="0.182" stroke-opacity="0.6">2,000</text>
<text x="483.30" y="100.60" font-size="2.6" text-anchor="middle" font-weight="normal" fill="#555" dominant-baseline="central"  stroke="#555" stroke-width="0.182" stroke-opacity="0.6">4,000</text>
<text x="493.60" y="100.60" font-size="2.6" text-anchor="middle" font-weight="normal" fill="#555" dominant-baseline="central"  stroke="#555" stroke-width="0.182" stroke-opacity="0.6">6,000</text>
<text x="503.90" y="100.60" font-size="2.6" text-anchor="middle" font-weight="normal" fill="#555" dominant-baseline="central"  stroke="#555" stroke-width="0.182" stroke-opacity="0.6">8,000</text>
<text x="514.20" y="100.60" font-size="2.6" text-anchor="middle" font-weight="normal" fill="#555" dominant-baseline="central"  stroke="#555" stroke-width="0.182" stroke-opacity="0.6">10,000</text>
<text x="524.50" y="100.60" font-size="2.6" text-anchor="middle" font-weight="normal" fill="#555" dominant-baseline="central"  stroke="#555" stroke-width="0.182" stroke-opacity="0.6">12,000</text>
<text x="534.80" y="100.60" font-size="2.6" text-anchor="middle" font-weight="normal" fill="#555" dominant-baseline="central"  stroke="#555" stroke-width="0.182" stroke-opacity="0.6">14,000</text>
<text x="545.10" y="100.60" font-size="2.6" text-anchor="middle" font-weight="normal" fill="#555" dominant-baseline="central"  stroke="#555" stroke-width="0.182" stroke-opacity="0.6">16,000</text>
<text x="502.40" y="104.20" font-size="2.7" text-anchor="middle" font-weight="normal" fill="#444" dominant-baseline="central"  stroke="#444" stroke-width="0.189" stroke-opacity="0.6">Rank in Ordered Dataset</text>
<rect x="466.20" y="107.20" width="68.30" height="4.80" fill="#fff" stroke="#888" stroke-width="0.35" />
<line x1="467.20" y1="109.60" x2="470.20" y2="109.60" stroke="#55e64a" stroke-width="0.8" />
<text x="470.80" y="109.60" font-size="2.6" text-anchor="start" font-weight="normal" fill="#333" dominant-baseline="central"  stroke="#333" stroke-width="0.182" stroke-opacity="0.6">Enrichment profile</text>
<line x1="493.52" y1="109.60" x2="496.52" y2="109.60" stroke="#444" stroke-width="0.3" />
<text x="497.12" y="109.60" font-size="2.6" text-anchor="start" font-weight="normal" fill="#333" dominant-baseline="central"  stroke="#333" stroke-width="0.182" stroke-opacity="0.6">Hits</text>
<line x1="505.13" y1="109.60" x2="508.13" y2="109.60" stroke="#bbb" stroke-width="0.8" />
<text x="508.73" y="109.60" font-size="2.6" text-anchor="start" font-weight="normal" fill="#333" dominant-baseline="central"  stroke="#333" stroke-width="0.182" stroke-opacity="0.6">Ranking metric scores</text>
<rect x="566.00" y="13.00" width="99.30" height="99.50" fill="#efefef" stroke="none" stroke-width="0" />
<text x="615.65" y="15.50" font-size="3.7" text-anchor="middle" font-weight="bold" fill="#111" dominant-baseline="central"  stroke="#111" stroke-width="0.259" stroke-opacity="0.6">Enrichment plot:</text>
<text x="615.65" y="20.90" font-size="3.7" text-anchor="middle" font-weight="bold" fill="#111" dominant-baseline="central" textLength="88.9" lengthAdjust="spacingAndGlyphs" stroke="#111" stroke-width="0.259" stroke-opacity="0.6">GOBP_RHO_PROTEIN_SIGNAL_TRANSDUCTION</text>
<rect x="578.30" y="24.50" width="85.20" height="73.80" fill="#ffffff" stroke="#bbbbbb" stroke-width="0.3" />
<line x1="588.95" y1="24.50" x2="588.95" y2="59.60" stroke="#e6e6e6" stroke-width="0.4" />
<line x1="588.95" y1="74.30" x2="588.95" y2="98.30" stroke="#eeeeee" stroke-width="0.4" />
<line x1="599.60" y1="24.50" x2="599.60" y2="59.60" stroke="#e6e6e6" stroke-width="0.4" />
<line x1="599.60" y1="74.30" x2="599.60" y2="98.30" stroke="#eeeeee" stroke-width="0.4" />
<line x1="610.25" y1="24.50" x2="610.25" y2="59.60" stroke="#e6e6e6" stroke-width="0.4" />
<line x1="610.25" y1="74.30" x2="610.25" y2="98.30" stroke="#eeeeee" stroke-width="0.4" />
<line x1="620.90" y1="24.50" x2="620.90" y2="59.60" stroke="#e6e6e6" stroke-width="0.4" />
<line x1="620.90" y1="74.30" x2="620.90" y2="98.30" stroke="#eeeeee" stroke-width="0.4" />
<line x1="631.55" y1="24.50" x2="631.55" y2="59.60" stroke="#e6e6e6" stroke-width="0.4" />
<line x1="631.55" y1="74.30" x2="631.55" y2="98.30" stroke="#eeeeee" stroke-width="0.4" />
<line x1="642.20" y1="24.50" x2="642.20" y2="59.60" stroke="#e6e6e6" stroke-width="0.4" />
<line x1="642.20" y1="74.30" x2="642.20" y2="98.30" stroke="#eeeeee" stroke-width="0.4" />
<line x1="652.85" y1="24.50" x2="652.85" y2="59.60" stroke="#e6e6e6" stroke-width="0.4" />
<line x1="652.85" y1="74.30" x2="652.85" y2="98.30" stroke="#eeeeee" stroke-width="0.4" />
<line x1="578.30" y1="25.40" x2="663.50" y2="25.40" stroke="#e6e6e6" stroke-width="0.4" />
<line x1="578.30" y1="32.20" x2="663.50" y2="32.20" stroke="#e6e6e6" stroke-width="0.4" />
<line x1="578.30" y1="39.00" x2="663.50" y2="39.00" stroke="#e6e6e6" stroke-width="0.4" />
<line x1="578.30" y1="45.80" x2="663.50" y2="45.80" stroke="#e6e6e6" stroke-width="0.4" />
<line x1="578.30" y1="52.60" x2="663.50" y2="52.60" stroke="#e6e6e6" stroke-width="0.4" />
<line x1="578.30" y1="80.30" x2="663.50" y2="80.30" stroke="#eeeeee" stroke-width="0.4" />
<line x1="578.30" y1="86.30" x2="663.50" y2="86.30" stroke="#eeeeee" stroke-width="0.4" />
<line x1="578.30" y1="92.30" x2="663.50" y2="92.30" stroke="#eeeeee" stroke-width="0.4" />
<line x1="578.30" y1="59.60" x2="663.50" y2="59.60" stroke="#cccccc" stroke-width="0.3" />
<line x1="578.30" y1="71.50" x2="663.50" y2="71.50" stroke="#cccccc" stroke-width="0.3" />
<line x1="578.30" y1="32.20" x2="663.50" y2="32.20" stroke="#999999" stroke-width="0.3" />
<line x1="579.00" y1="59.90" x2="579.00" y2="71.50" stroke="#000" stroke-width="0.45" stroke-opacity="0.86"/>
<line x1="582.30" y1="59.90" x2="582.30" y2="71.50" stroke="#000" stroke-width="0.45" stroke-opacity="0.57"/>
<line x1="582.90" y1="59.90" x2="582.90" y2="71.50" stroke="#000" stroke-width="0.45" stroke-opacity="0.57"/>
<line x1="583.90" y1="59.90" x2="583.90" y2="71.50" stroke="#000" stroke-width="0.45" stroke-opacity="0.69"/>
<line x1="584.90" y1="59.90" x2="584.90" y2="71.50" stroke="#000" stroke-width="0.45" stroke-opacity="0.80"/>
<line x1="585.90" y1="59.90" x2="585.90" y2="71.50" stroke="#000" stroke-width="0.45" stroke-opacity="0.69"/>
<line x1="590.40" y1="59.90" x2="590.40" y2="71.50" stroke="#000" stroke-width="0.45" stroke-opacity="0.48"/>
<line x1="591.13" y1="59.90" x2="591.13" y2="71.50" stroke="#000" stroke-width="0.45" stroke-opacity="0.50"/>
<line x1="591.76" y1="59.90" x2="591.76" y2="71.50" stroke="#000" stroke-width="0.45" stroke-opacity="0.55"/>
<line x1="592.63" y1="59.90" x2="592.63" y2="71.50" stroke="#000" stroke-width="0.45" stroke-opacity="0.64"/>
<line x1="593.30" y1="59.90" x2="593.30" y2="71.50" stroke="#000" stroke-width="0.45" stroke-opacity="0.51"/>
<line x1="593.96" y1="59.90" x2="593.96" y2="71.50" stroke="#000" stroke-width="0.45" stroke-opacity="0.52"/>
<line x1="594.58" y1="59.90" x2="594.58" y2="71.50" stroke="#000" stroke-width="0.45" stroke-opacity="0.48"/>
<line x1="595.29" y1="59.90" x2="595.29" y2="71.50" stroke="#000" stroke-width="0.45" stroke-opacity="0.67"/>
<line x1="590.80" y1="59.90" x2="590.80" y2="71.50" stroke="#000" stroke-width="0.45" stroke-opacity="0.92"/>
<line x1="593.10" y1="59.90" x2="593.10" y2="71.50" stroke="#000" stroke-width="0.45" stroke-opacity="0.92"/>
<line x1="595.10" y1="59.90" x2="595.10" y2="71.50" stroke="#000" stroke-width="0.45" stroke-opacity="0.92"/>
<line x1="597.00" y1="59.90" x2="597.00" y2="71.50" stroke="#000" stroke-width="0.45" stroke-opacity="0.40"/>
<line x1="598.40" y1="59.90" x2="598.40" y2="71.50" stroke="#000" stroke-width="0.45" stroke-opacity="0.40"/>
<line x1="600.70" y1="59.90" x2="600.70" y2="71.50" stroke="#000" stroke-width="0.45" stroke-opacity="0.86"/>
<line x1="601.50" y1="59.90" x2="601.50" y2="71.50" stroke="#000" stroke-width="0.45" stroke-opacity="0.69"/>
<line x1="602.30" y1="59.90" x2="602.30" y2="71.50" stroke="#000" stroke-width="0.45" stroke-opacity="0.69"/>
<line x1="603.00" y1="59.90" x2="603.00" y2="71.50" stroke="#000" stroke-width="0.45" stroke-opacity="0.69"/>
<line x1="604.95" y1="59.90" x2="604.95" y2="71.50" stroke="#000" stroke-width="0.45" stroke-opacity="0.65"/>
<line x1="605.52" y1="59.90" x2="605.52" y2="71.50" stroke="#000" stroke-width="0.45" stroke-opacity="0.50"/>
<line x1="606.00" y1="59.90" x2="606.00" y2="71.50" stroke="#000" stroke-width="0.45" stroke-opacity="0.60"/>
<line x1="606.66" y1="59.90" x2="606.66" y2="71.50" stroke="#000" stroke-width="0.45" stroke-opacity="0.66"/>
<line x1="610.00" y1="59.90" x2="610.00" y2="71.50" stroke="#000" stroke-width="0.45" stroke-opacity="0.43"/>
<line x1="610.58" y1="59.90" x2="610.58" y2="71.50" stroke="#000" stroke-width="0.45" stroke-opacity="0.55"/>
<line x1="611.20" y1="59.90" x2="611.20" y2="71.50" stroke="#000" stroke-width="0.45" stroke-opacity="0.45"/>
<line x1="611.83" y1="59.90" x2="611.83" y2="71.50" stroke="#000" stroke-width="0.45" stroke-opacity="0.43"/>
<line x1="612.57" y1="59.90" x2="612.57" y2="71.50" stroke="#000" stroke-width="0.45" stroke-opacity="0.59"/>
<line x1="615.50" y1="59.90" x2="615.50" y2="71.50" stroke="#000" stroke-width="0.45" stroke-opacity="0.98"/>
<line x1="616.50" y1="59.90" x2="616.50" y2="71.50" stroke="#000" stroke-width="0.45" stroke-opacity="0.80"/>
<line x1="619.30" y1="59.90" x2="619.30" y2="71.50" stroke="#000" stroke-width="0.45" stroke-opacity="0.34"/>
<line x1="620.30" y1="59.90" x2="620.30" y2="71.50" stroke="#000" stroke-width="0.45" stroke-opacity="0.34"/>
<line x1="621.30" y1="59.90" x2="621.30" y2="71.50" stroke="#000" stroke-width="0.45" stroke-opacity="0.86"/>
<line x1="623.90" y1="59.90" x2="623.90" y2="71.50" stroke="#000" stroke-width="0.45" stroke-opacity="0.53"/>
<line x1="624.54" y1="59.90" x2="624.54" y2="71.50" stroke="#000" stroke-width="0.45" stroke-opacity="0.59"/>
<line x1="625.11" y1="59.90" x2="625.11" y2="71.50" stroke="#000" stroke-width="0.45" stroke-opacity="0.66"/>
<line x1="625.60" y1="59.90" x2="625.60" y2="71.50" stroke="#000" stroke-width="0.45" stroke-opacity="0.56"/>
<line x1="626.19" y1="59.90" x2="626.19" y2="71.50" stroke="#000" stroke-width="0.45" stroke-opacity="0.56"/>
<line x1="626.68" y1="59.90" x2="626.68" y2="71.50" stroke="#000" stroke-width="0.45" stroke-opacity="0.53"/>
<line x1="627.38" y1="59.90" x2="627.38" y2="71.50" stroke="#000" stroke-width="0.45" stroke-opacity="0.47"/>
<line x1="629.40" y1="59.90" x2="629.40" y2="71.50" stroke="#000" stroke-width="0.45" stroke-opacity="0.91"/>
<line x1="630.02" y1="59.90" x2="630.02" y2="71.50" stroke="#000" stroke-width="0.45" stroke-opacity="0.87"/>
<line x1="630.63" y1="59.90" x2="630.63" y2="71.50" stroke="#000" stroke-width="0.45" stroke-opacity="0.81"/>
<line x1="631.31" y1="59.90" x2="631.31" y2="71.50" stroke="#000" stroke-width="0.45" stroke-opacity="0.76"/>
<line x1="635.40" y1="59.90" x2="635.40" y2="71.50" stroke="#000" stroke-width="0.45" stroke-opacity="0.86"/>
<line x1="638.70" y1="59.90" x2="638.70" y2="71.50" stroke="#000" stroke-width="0.45" stroke-opacity="0.98"/>
<line x1="639.40" y1="59.90" x2="639.40" y2="71.50" stroke="#000" stroke-width="0.45" stroke-opacity="0.92"/>
<line x1="640.00" y1="59.90" x2="640.00" y2="71.50" stroke="#000" stroke-width="0.45" stroke-opacity="0.98"/>
<line x1="642.27" y1="59.90" x2="642.27" y2="71.50" stroke="#000" stroke-width="0.45" stroke-opacity="0.81"/>
<line x1="642.89" y1="59.90" x2="642.89" y2="71.50" stroke="#000" stroke-width="0.45" stroke-opacity="0.84"/>
<line x1="643.41" y1="59.90" x2="643.41" y2="71.50" stroke="#000" stroke-width="0.45" stroke-opacity="1.00"/>
<line x1="643.98" y1="59.90" x2="643.98" y2="71.50" stroke="#000" stroke-width="0.45" stroke-opacity="0.94"/>
<line x1="644.67" y1="59.90" x2="644.67" y2="71.50" stroke="#000" stroke-width="0.45" stroke-opacity="0.77"/>
<line x1="645.07" y1="59.90" x2="645.07" y2="71.50" stroke="#000" stroke-width="0.45" stroke-opacity="0.82"/>
<line x1="645.79" y1="59.90" x2="645.79" y2="71.50" stroke="#000" stroke-width="0.45" stroke-opacity="0.96"/>
<line x1="646.26" y1="59.90" x2="646.26" y2="71.50" stroke="#000" stroke-width="0.45" stroke-opacity="0.86"/>
<line x1="647.50" y1="59.90" x2="647.50" y2="71.50" stroke="#000" stroke-width="0.45" stroke-opacity="0.90"/>
<line x1="647.99" y1="59.90" x2="647.99" y2="71.50" stroke="#000" stroke-width="0.45" stroke-opacity="0.99"/>
<line x1="648.68" y1="59.90" x2="648.68" y2="71.50" stroke="#000" stroke-width="0.45" stroke-opacity="1.00"/>
<line x1="649.17" y1="59.90" x2="649.17" y2="71.50" stroke="#000" stroke-width="0.45" stroke-opacity="1.00"/>
<line x1="649.54" y1="59.90" x2="649.54" y2="71.50" stroke="#000" stroke-width="0.45" stroke-opacity="0.84"/>
<line x1="651.98" y1="59.90" x2="651.98" y2="71.50" stroke="#000" stroke-width="0.45" stroke-opacity="0.89"/>
<line x1="652.45" y1="59.90" x2="652.45" y2="71.50" stroke="#000" stroke-width="0.45" stroke-opacity="0.95"/>
<line x1="653.07" y1="59.90" x2="653.07" y2="71.50" stroke="#000" stroke-width="0.45" stroke-opacity="0.91"/>
<line x1="653.59" y1="59.90" x2="653.59" y2="71.50" stroke="#000" stroke-width="0.45" stroke-opacity="0.71"/>
<line x1="654.20" y1="59.90" x2="654.20" y2="71.50" stroke="#000" stroke-width="0.45" stroke-opacity="0.69"/>
<line x1="659.80" y1="59.90" x2="659.80" y2="71.50" stroke="#000" stroke-width="0.45" stroke-opacity="0.40"/>
<rect x="578.30" y="71.50" width="39.20" height="2.80" fill="#f2b3ea" stroke="none" stroke-width="0" />
<rect x="617.50" y="71.50" width="42.40" height="2.80" fill="#3d05cf" stroke="none" stroke-width="0" />
<path d="M580.90,85.80 L580.90,75.10 L581.40,80.30 L582.10,82.60 L583.40,83.80 L585.90,84.50 L590.90,85.00 L613.16,85.60 L620.34,86.10 L638.26,86.80 L646.60,87.60 L650.60,88.80 L652.00,90.80 L652.60,96.80 L652.60,85.80" stroke="#777" stroke-width="0.25" fill="#bdbdbd" />
<line x1="578.30" y1="85.80" x2="662.50" y2="85.80" stroke="#888" stroke-width="0.3" />
<text x="615.65" y="85.80" font-size="2.2" text-anchor="middle" font-weight="normal" fill="#555" dominant-baseline="central" style="paint-order:stroke" stroke="#fff" stroke-width="0.6">Zero cross at 7861</text>
<text x="579.30" y="75.90" font-size="2.3" text-anchor="start" font-weight="normal" fill="#e03030" dominant-baseline="central"  stroke="#e03030" stroke-width="0.161" stroke-opacity="0.6">'na_pos' (positively correlated)</text>
<text x="636.50" y="96.10" font-size="2.3" text-anchor="middle" font-weight="normal" fill="#3030e0" dominant-baseline="central"  stroke="#3030e0" stroke-width="0.161" stroke-opacity="0.6">'na_neg' (negatively correlated)</text>
<path d="M578.60,31.70 L581.80,34.40 L583.10,30.80 L585.80,29.50 L588.50,30.40 L591.20,32.60 L594.90,32.60 L600.30,34.40 L609.30,40.80 L620.00,49.80 L625.40,53.40 L632.70,56.20 L638.10,58.00 L641.70,55.30 L645.40,46.20 L649.00,38.00 L651.70,33.50 L653.00,26.30 L660.80,32.60" stroke="#5aee3c" stroke-width="0.95" fill="none" stroke-linejoin="round"/>
<text x="570.40" y="42.05" font-size="2.8" text-anchor="middle" font-weight="normal" fill="#444" dominant-baseline="central" transform="rotate(-90 570.4 42.0)" stroke="#444" stroke-width="0.196" stroke-opacity="0.6">Enrichment score (ES)</text>
<text x="571.70" y="84.40" font-size="2.5" text-anchor="middle" font-weight="normal" fill="#444" dominant-baseline="central" transform="rotate(-90 571.7 84.4)" stroke="#444" stroke-width="0.175" stroke-opacity="0.6">Ranked list metric (log2_Ratio_of_Classes)</text>
<text x="576.90" y="25.40" font-size="2.5" text-anchor="end" font-weight="normal" fill="#555" dominant-baseline="central"  stroke="#555" stroke-width="0.175" stroke-opacity="0.6">0.1</text>
<line x1="577.50" y1="25.40" x2="578.30" y2="25.40" stroke="#777" stroke-width="0.25" />
<text x="576.90" y="32.20" font-size="2.5" text-anchor="end" font-weight="normal" fill="#555" dominant-baseline="central"  stroke="#555" stroke-width="0.175" stroke-opacity="0.6">0.0</text>
<line x1="577.50" y1="32.20" x2="578.30" y2="32.20" stroke="#777" stroke-width="0.25" />
<text x="576.90" y="39.00" font-size="2.5" text-anchor="end" font-weight="normal" fill="#555" dominant-baseline="central"  stroke="#555" stroke-width="0.175" stroke-opacity="0.6">-0.1</text>
<line x1="577.50" y1="39.00" x2="578.30" y2="39.00" stroke="#777" stroke-width="0.25" />
<text x="576.90" y="45.80" font-size="2.5" text-anchor="end" font-weight="normal" fill="#555" dominant-baseline="central"  stroke="#555" stroke-width="0.175" stroke-opacity="0.6">-0.2</text>
<line x1="577.50" y1="45.80" x2="578.30" y2="45.80" stroke="#777" stroke-width="0.25" />
<text x="576.90" y="52.60" font-size="2.5" text-anchor="end" font-weight="normal" fill="#555" dominant-baseline="central"  stroke="#555" stroke-width="0.175" stroke-opacity="0.6">-0.3</text>
<line x1="577.50" y1="52.60" x2="578.30" y2="52.60" stroke="#777" stroke-width="0.25" />
<text x="576.90" y="59.40" font-size="2.5" text-anchor="end" font-weight="normal" fill="#555" dominant-baseline="central"  stroke="#555" stroke-width="0.175" stroke-opacity="0.6">-0.4</text>
<line x1="577.50" y1="59.40" x2="578.30" y2="59.40" stroke="#777" stroke-width="0.25" />
<text x="576.90" y="74.64" font-size="2.5" text-anchor="end" font-weight="normal" fill="#555" dominant-baseline="central"  stroke="#555" stroke-width="0.175" stroke-opacity="0.6">10</text>
<text x="576.90" y="80.22" font-size="2.5" text-anchor="end" font-weight="normal" fill="#555" dominant-baseline="central"  stroke="#555" stroke-width="0.175" stroke-opacity="0.6">5</text>
<text x="576.90" y="85.80" font-size="2.5" text-anchor="end" font-weight="normal" fill="#555" dominant-baseline="central"  stroke="#555" stroke-width="0.175" stroke-opacity="0.6">0</text>
<text x="576.90" y="91.38" font-size="2.5" text-anchor="end" font-weight="normal" fill="#555" dominant-baseline="central"  stroke="#555" stroke-width="0.175" stroke-opacity="0.6">-5</text>
<text x="576.90" y="96.96" font-size="2.5" text-anchor="end" font-weight="normal" fill="#555" dominant-baseline="central"  stroke="#555" stroke-width="0.175" stroke-opacity="0.6">-10</text>
<text x="578.30" y="101.30" font-size="2.6" text-anchor="middle" font-weight="normal" fill="#555" dominant-baseline="central"  stroke="#555" stroke-width="0.182" stroke-opacity="0.6">0</text>
<text x="588.59" y="101.30" font-size="2.6" text-anchor="middle" font-weight="normal" fill="#555" dominant-baseline="central"  stroke="#555" stroke-width="0.182" stroke-opacity="0.6">2,000</text>
<text x="598.88" y="101.30" font-size="2.6" text-anchor="middle" font-weight="normal" fill="#555" dominant-baseline="central"  stroke="#555" stroke-width="0.182" stroke-opacity="0.6">4,000</text>
<text x="609.16" y="101.30" font-size="2.6" text-anchor="middle" font-weight="normal" fill="#555" dominant-baseline="central"  stroke="#555" stroke-width="0.182" stroke-opacity="0.6">6,000</text>
<text x="619.45" y="101.30" font-size="2.6" text-anchor="middle" font-weight="normal" fill="#555" dominant-baseline="central"  stroke="#555" stroke-width="0.182" stroke-opacity="0.6">8,000</text>
<text x="629.74" y="101.30" font-size="2.6" text-anchor="middle" font-weight="normal" fill="#555" dominant-baseline="central"  stroke="#555" stroke-width="0.182" stroke-opacity="0.6">10,000</text>
<text x="640.03" y="101.30" font-size="2.6" text-anchor="middle" font-weight="normal" fill="#555" dominant-baseline="central"  stroke="#555" stroke-width="0.182" stroke-opacity="0.6">12,000</text>
<text x="650.32" y="101.30" font-size="2.6" text-anchor="middle" font-weight="normal" fill="#555" dominant-baseline="central"  stroke="#555" stroke-width="0.182" stroke-opacity="0.6">14,000</text>
<text x="660.60" y="101.30" font-size="2.6" text-anchor="middle" font-weight="normal" fill="#555" dominant-baseline="central"  stroke="#555" stroke-width="0.182" stroke-opacity="0.6">16,000</text>
<text x="617.65" y="104.90" font-size="2.7" text-anchor="middle" font-weight="normal" fill="#444" dominant-baseline="central"  stroke="#444" stroke-width="0.189" stroke-opacity="0.6">Rank in Ordered Dataset</text>
<rect x="581.80" y="107.50" width="68.20" height="4.90" fill="#fff" stroke="#888" stroke-width="0.35" />
<line x1="582.80" y1="109.95" x2="585.80" y2="109.95" stroke="#55e64a" stroke-width="0.8" />
<text x="586.40" y="109.95" font-size="2.6" text-anchor="start" font-weight="normal" fill="#333" dominant-baseline="central"  stroke="#333" stroke-width="0.182" stroke-opacity="0.6">Enrichment profile</text>
<line x1="609.08" y1="109.95" x2="612.08" y2="109.95" stroke="#444" stroke-width="0.3" />
<text x="612.68" y="109.95" font-size="2.6" text-anchor="start" font-weight="normal" fill="#333" dominant-baseline="central"  stroke="#333" stroke-width="0.182" stroke-opacity="0.6">Hits</text>
<line x1="620.67" y1="109.95" x2="623.67" y2="109.95" stroke="#bbb" stroke-width="0.8" />
<text x="624.27" y="109.95" font-size="2.6" text-anchor="start" font-weight="normal" fill="#333" dominant-baseline="central"  stroke="#333" stroke-width="0.182" stroke-opacity="0.6">Ranking metric scores</text>
<rect x="296.70" y="18.40" width="105.80" height="90.60" fill="#fff" stroke="#a0a0a0" stroke-width="0.7" />
<line x1="301.80" y1="18.80" x2="301.80" y2="108.60" stroke="#e2e2e2" stroke-width="0.5" />
<line x1="311.75" y1="18.80" x2="311.75" y2="108.60" stroke="#ececec" stroke-width="0.5" />
<line x1="321.70" y1="18.80" x2="321.70" y2="108.60" stroke="#e2e2e2" stroke-width="0.5" />
<line x1="331.65" y1="18.80" x2="331.65" y2="108.60" stroke="#ececec" stroke-width="0.5" />
<line x1="341.60" y1="18.80" x2="341.60" y2="108.60" stroke="#e2e2e2" stroke-width="0.5" />
<line x1="351.55" y1="18.80" x2="351.55" y2="108.60" stroke="#ececec" stroke-width="0.5" />
<line x1="361.50" y1="18.80" x2="361.50" y2="108.60" stroke="#e2e2e2" stroke-width="0.5" />
<line x1="371.45" y1="18.80" x2="371.45" y2="108.60" stroke="#ececec" stroke-width="0.5" />
<line x1="381.40" y1="18.80" x2="381.40" y2="108.60" stroke="#e2e2e2" stroke-width="0.5" />
<line x1="391.35" y1="18.80" x2="391.35" y2="108.60" stroke="#ececec" stroke-width="0.5" />
<line x1="297.10" y1="24.20" x2="402.10" y2="24.20" stroke="#e2e2e2" stroke-width="0.5" />
<line x1="297.10" y1="34.12" x2="402.10" y2="34.12" stroke="#e2e2e2" stroke-width="0.5" />
<line x1="297.10" y1="44.04" x2="402.10" y2="44.04" stroke="#e2e2e2" stroke-width="0.5" />
<line x1="297.10" y1="53.96" x2="402.10" y2="53.96" stroke="#e2e2e2" stroke-width="0.5" />
<line x1="297.10" y1="63.88" x2="402.10" y2="63.88" stroke="#e2e2e2" stroke-width="0.5" />
<line x1="297.10" y1="73.80" x2="402.10" y2="73.80" stroke="#e2e2e2" stroke-width="0.5" />
<line x1="297.10" y1="83.72" x2="402.10" y2="83.72" stroke="#e2e2e2" stroke-width="0.5" />
<line x1="297.10" y1="93.64" x2="402.10" y2="93.64" stroke="#e2e2e2" stroke-width="0.5" />
<line x1="297.10" y1="103.56" x2="402.10" y2="103.56" stroke="#e2e2e2" stroke-width="0.5" />
<line x1="295.20" y1="24.20" x2="296.70" y2="24.20" stroke="#555" stroke-width="0.5" />
<text x="294.30" y="24.20" font-size="3.6" text-anchor="end" font-weight="normal" fill="#555" dominant-baseline="central"  stroke="#555" stroke-width="0.252" stroke-opacity="0.6">MM7029</text>
<line x1="295.20" y1="34.12" x2="296.70" y2="34.12" stroke="#555" stroke-width="0.5" />
<text x="294.30" y="34.12" font-size="3.6" text-anchor="end" font-weight="normal" fill="#555" dominant-baseline="central"  stroke="#555" stroke-width="0.252" stroke-opacity="0.6">MM5048</text>
<line x1="295.20" y1="44.04" x2="296.70" y2="44.04" stroke="#555" stroke-width="0.5" />
<text x="294.30" y="44.04" font-size="3.6" text-anchor="end" font-weight="normal" fill="#555" dominant-baseline="central"  stroke="#555" stroke-width="0.252" stroke-opacity="0.6">MM7125</text>
<line x1="295.20" y1="53.96" x2="296.70" y2="53.96" stroke="#555" stroke-width="0.5" />
<text x="294.30" y="53.96" font-size="3.6" text-anchor="end" font-weight="normal" fill="#555" dominant-baseline="central"  stroke="#555" stroke-width="0.252" stroke-opacity="0.6">MM8002</text>
<line x1="295.20" y1="63.88" x2="296.70" y2="63.88" stroke="#555" stroke-width="0.5" />
<text x="294.30" y="63.88" font-size="3.6" text-anchor="end" font-weight="normal" fill="#555" dominant-baseline="central"  stroke="#555" stroke-width="0.252" stroke-opacity="0.6">MM7080</text>
<line x1="295.20" y1="73.80" x2="296.70" y2="73.80" stroke="#555" stroke-width="0.5" />
<text x="294.30" y="73.80" font-size="3.6" text-anchor="end" font-weight="normal" fill="#555" dominant-baseline="central"  stroke="#555" stroke-width="0.252" stroke-opacity="0.6">MM6773</text>
<line x1="295.20" y1="83.72" x2="296.70" y2="83.72" stroke="#555" stroke-width="0.5" />
<text x="294.30" y="83.72" font-size="3.6" text-anchor="end" font-weight="normal" fill="#555" dominant-baseline="central"  stroke="#555" stroke-width="0.252" stroke-opacity="0.6">MM5006</text>
<line x1="295.20" y1="93.64" x2="296.70" y2="93.64" stroke="#555" stroke-width="0.5" />
<text x="294.30" y="93.64" font-size="3.6" text-anchor="end" font-weight="normal" fill="#555" dominant-baseline="central"  stroke="#555" stroke-width="0.252" stroke-opacity="0.6">MM8889</text>
<line x1="295.20" y1="103.56" x2="296.70" y2="103.56" stroke="#555" stroke-width="0.5" />
<text x="294.30" y="103.56" font-size="3.6" text-anchor="end" font-weight="normal" fill="#555" dominant-baseline="central"  stroke="#555" stroke-width="0.252" stroke-opacity="0.6">MM7038</text>
<line x1="301.80" y1="109.00" x2="301.80" y2="110.50" stroke="#555" stroke-width="0.5" />
<text x="301.80" y="113.20" font-size="3.5" text-anchor="middle" font-weight="normal" fill="#555" dominant-baseline="central"  stroke="#555" stroke-width="0.245" stroke-opacity="0.6">0.0</text>
<line x1="321.70" y1="109.00" x2="321.70" y2="110.50" stroke="#555" stroke-width="0.5" />
<text x="321.70" y="113.20" font-size="3.5" text-anchor="middle" font-weight="normal" fill="#555" dominant-baseline="central"  stroke="#555" stroke-width="0.245" stroke-opacity="0.6">0.5</text>
<line x1="341.60" y1="109.00" x2="341.60" y2="110.50" stroke="#555" stroke-width="0.5" />
<text x="341.60" y="113.20" font-size="3.5" text-anchor="middle" font-weight="normal" fill="#555" dominant-baseline="central"  stroke="#555" stroke-width="0.245" stroke-opacity="0.6">1.0</text>
<line x1="361.50" y1="109.00" x2="361.50" y2="110.50" stroke="#555" stroke-width="0.5" />
<text x="361.50" y="113.20" font-size="3.5" text-anchor="middle" font-weight="normal" fill="#555" dominant-baseline="central"  stroke="#555" stroke-width="0.245" stroke-opacity="0.6">1.5</text>
<line x1="381.40" y1="109.00" x2="381.40" y2="110.50" stroke="#555" stroke-width="0.5" />
<text x="381.40" y="113.20" font-size="3.5" text-anchor="middle" font-weight="normal" fill="#555" dominant-baseline="central"  stroke="#555" stroke-width="0.245" stroke-opacity="0.6">2.0</text>
<line x1="401.30" y1="109.00" x2="401.30" y2="110.50" stroke="#555" stroke-width="0.5" />
<text x="401.30" y="113.20" font-size="3.5" text-anchor="middle" font-weight="normal" fill="#555" dominant-baseline="central"  stroke="#555" stroke-width="0.245" stroke-opacity="0.6">2.5</text>
<text x="272.30" y="27.60" font-size="7.6" text-anchor="end" font-weight="normal" fill="#222" dominant-baseline="central" >Rho</text>
<line x1="275.80" y1="22.50" x2="275.80" y2="34.20" stroke="#555" stroke-width="0.9" />
<text x="272.30" y="48.40" font-size="7.6" text-anchor="end" font-weight="normal" fill="#222" dominant-baseline="central" >Wnt</text>
<line x1="275.80" y1="43.00" x2="275.80" y2="53.40" stroke="#555" stroke-width="0.9" />
<text x="272.30" y="63.70" font-size="7.6" text-anchor="end" font-weight="normal" fill="#222" dominant-baseline="central" >Hippo</text>
<line x1="275.80" y1="61.20" x2="275.80" y2="66.20" stroke="#555" stroke-width="0.9" />
<text x="272.30" y="78.90" font-size="7.6" text-anchor="end" font-weight="normal" fill="#222" dominant-baseline="central" >TGF-β1</text>
<line x1="275.80" y1="71.30" x2="275.80" y2="85.60" stroke="#555" stroke-width="0.9" />
<text x="272.30" y="98.80" font-size="7.6" text-anchor="end" font-weight="normal" fill="#222" dominant-baseline="central" >PI3K-AKT</text>
<line x1="275.80" y1="91.50" x2="275.80" y2="105.40" stroke="#555" stroke-width="0.9" />
<text x="354.10" y="123.00" font-size="7.7" text-anchor="middle" font-weight="normal" fill="#222" dominant-baseline="central" >INESI</text>
<circle cx="381.80" cy="24.20" r="1.60" fill="#e2323a" stroke="none" stroke-width="0" />
<circle cx="375.90" cy="34.12" r="2.15" fill="#b8304f" stroke="none" stroke-width="0" />
<circle cx="374.10" cy="44.04" r="1.20" fill="#a83058" stroke="none" stroke-width="0" />
<circle cx="369.50" cy="53.96" r="2.80" fill="#7b3a7d" stroke="none" stroke-width="0" />
<circle cx="369.50" cy="63.88" r="0.55" fill="#803a78" stroke="none" stroke-width="0" />
<circle cx="362.60" cy="73.80" r="2.25" fill="#4a3b88" stroke="none" stroke-width="0" />
<circle cx="359.00" cy="83.72" r="2.10" fill="#2f4393" stroke="none" stroke-width="0" />
<circle cx="357.60" cy="93.64" r="1.90" fill="#2b4596" stroke="none" stroke-width="0" />
<circle cx="357.20" cy="103.56" r="2.70" fill="#2a4596" stroke="none" stroke-width="0" />
<defs><linearGradient id="cb" x1="0" y1="0" x2="0" y2="1"><stop offset="0" stop-color="#e8343a"/><stop offset="0.5" stop-color="#8a3a74"/><stop offset="1" stop-color="#2a48a0"/></linearGradient></defs>
<rect x="409.20" y="35.30" width="6.00" height="34.60" fill="url(#cb)" stroke="none" stroke-width="0" />
<text x="408.50" y="31.40" font-size="3.6" text-anchor="start" font-weight="normal" fill="#333" dominant-baseline="central"  stroke="#333" stroke-width="0.252" stroke-opacity="0.6">-log10 (FDR)</text>
<text x="417.80" y="37.60" font-size="3.7" text-anchor="start" font-weight="normal" fill="#333" dominant-baseline="central"  stroke="#333" stroke-width="0.259" stroke-opacity="0.6">1.8</text>
<line x1="415.20" y1="37.60" x2="416.20" y2="37.60" stroke="#fff" stroke-width="0.4" />
<text x="417.80" y="45.70" font-size="3.7" text-anchor="start" font-weight="normal" fill="#333" dominant-baseline="central"  stroke="#333" stroke-width="0.259" stroke-opacity="0.6">1.5</text>
<line x1="415.20" y1="45.70" x2="416.20" y2="45.70" stroke="#fff" stroke-width="0.4" />
<text x="417.80" y="53.60" font-size="3.7" text-anchor="start" font-weight="normal" fill="#333" dominant-baseline="central"  stroke="#333" stroke-width="0.259" stroke-opacity="0.6">1.2</text>
<line x1="415.20" y1="53.60" x2="416.20" y2="53.60" stroke="#fff" stroke-width="0.4" />
<text x="417.80" y="61.30" font-size="3.7" text-anchor="start" font-weight="normal" fill="#333" dominant-baseline="central"  stroke="#333" stroke-width="0.259" stroke-opacity="0.6">0.9</text>
<line x1="415.20" y1="61.30" x2="416.20" y2="61.30" stroke="#fff" stroke-width="0.4" />
<text x="409.00" y="80.70" font-size="3.6" text-anchor="start" font-weight="normal" fill="#333" dominant-baseline="central"  stroke="#333" stroke-width="0.252" stroke-opacity="0.6">SIZE</text>
<circle cx="412.30" cy="88.20" r="1.55" fill="#111" stroke="none" stroke-width="0" />
<circle cx="412.30" cy="95.10" r="2.30" fill="#111" stroke="none" stroke-width="0" />
<text x="417.40" y="88.20" font-size="3.7" text-anchor="start" font-weight="normal" fill="#333" dominant-baseline="central"  stroke="#333" stroke-width="0.259" stroke-opacity="0.6">100</text>
<text x="417.40" y="95.10" font-size="3.7" text-anchor="start" font-weight="normal" fill="#333" dominant-baseline="central"  stroke="#333" stroke-width="0.259" stroke-opacity="0.6">200</text>
<defs><filter id="bl1" x="-50%" y="-50%" width="200%" height="200%"><feGaussianBlur stdDeviation="1.1"/></filter><filter id="bl2" x="-50%" y="-50%" width="200%" height="200%"><feGaussianBlur stdDeviation="2.2"/></filter><filter id="bl05" x="-50%" y="-50%" width="200%" height="200%"><feGaussianBlur stdDeviation="0.6"/></filter><filter id="bl08" x="-50%" y="-50%" width="200%" height="200%"><feGaussianBlur stdDeviation="0.85"/></filter><filter id="bl3" x="-50%" y="-50%" width="200%" height="200%"><feGaussianBlur stdDeviation="3.2"/></filter><clipPath id="molclip"><rect x="128.1" y="141" width="127.9" height="85.6"/></clipPath></defs>
<g fill="none" stroke="#9a9a9a" stroke-width="0.35"><path d="M33.5,152 C37,160 35,168 33,176 C31,185 35,196 40,202 C46,209 55,210 60,212 C70,216 80,214 88,205 C91,201 95,198 100,197"/><path d="M39,172 C40,180 42,190 47,196 C52,203 60,205 68,206 C76,207 80,205 84,200"/><path d="M66,168 C70,172 72,176 75,181 C79,186 84,180 88,178 C95,175 100,178 104,182"/><path d="M94,195 C97,192 100,190 104,190"/></g>
<circle cx="46.00" cy="153.70" r="3.30" fill="#5a63c9" stroke="none" stroke-width="0" filter="url(#bl1)" opacity="0.85"/>
<circle cx="54.50" cy="153.70" r="3.30" fill="#5a63c9" stroke="none" stroke-width="0" filter="url(#bl1)" opacity="0.85"/>
<circle cx="57.50" cy="160.20" r="3.20" fill="#5a63c9" stroke="none" stroke-width="0" filter="url(#bl1)" opacity="0.85"/>
<circle cx="43.00" cy="160.20" r="3.20" fill="#5a63c9" stroke="none" stroke-width="0" filter="url(#bl1)" opacity="0.85"/>
<circle cx="50.50" cy="150.70" r="3.00" fill="#5a63c9" stroke="none" stroke-width="0" filter="url(#bl1)" opacity="0.85"/>
<circle cx="50.30" cy="164.20" r="2.80" fill="#5a63c9" stroke="none" stroke-width="0" filter="url(#bl1)" opacity="0.85"/>
<circle cx="43.50" cy="176.00" r="2.60" fill="#5a63c9" stroke="none" stroke-width="0" filter="url(#bl1)" opacity="0.85"/>
<circle cx="43.50" cy="183.20" r="2.40" fill="#5a63c9" stroke="none" stroke-width="0" filter="url(#bl1)" opacity="0.85"/>
<circle cx="50.10" cy="193.20" r="2.40" fill="#5a63c9" stroke="none" stroke-width="0" filter="url(#bl1)" opacity="0.85"/>
<circle cx="68.20" cy="176.30" r="2.40" fill="#5a63c9" stroke="none" stroke-width="0" filter="url(#bl1)" opacity="0.85"/>
<circle cx="90.00" cy="186.00" r="3.40" fill="#5a63c9" stroke="none" stroke-width="0" filter="url(#bl1)" opacity="0.85"/>
<circle cx="96.00" cy="185.00" r="3.40" fill="#5a63c9" stroke="none" stroke-width="0" filter="url(#bl1)" opacity="0.85"/>
<circle cx="97.50" cy="191.50" r="3.40" fill="#5a63c9" stroke="none" stroke-width="0" filter="url(#bl1)" opacity="0.85"/>
<circle cx="91.00" cy="192.50" r="3.00" fill="#5a63c9" stroke="none" stroke-width="0" filter="url(#bl1)" opacity="0.85"/>
<circle cx="93.50" cy="189.00" r="3.50" fill="#5a63c9" stroke="none" stroke-width="0" filter="url(#bl1)" opacity="0.85"/>
<circle cx="73.00" cy="200.80" r="1.60" fill="#5a63c9" stroke="none" stroke-width="0" filter="url(#bl1)" opacity="0.85"/>
<circle cx="63.40" cy="139.90" r="5.30" fill="#5aa8e6" stroke="none" stroke-width="0" filter="url(#bl05)" opacity="0.9"/>
<circle cx="62.60" cy="140.90" r="2.90" fill="#c6e9b0" stroke="#8cc070" stroke-width="0.5" />
<text x="62.60" y="140.10" font-size="1.7" text-anchor="middle" font-weight="normal" fill="#555" dominant-baseline="central"  stroke="#555" stroke-width="0.119" stroke-opacity="0.6">Xxx</text>
<text x="62.60" y="141.80" font-size="1.7" text-anchor="middle" font-weight="normal" fill="#555" dominant-baseline="central"  stroke="#555" stroke-width="0.119" stroke-opacity="0.6">000</text>
<circle cx="81.30" cy="148.50" r="3.30" fill="#d9c6e6" stroke="#d03040" stroke-width="0.5" />
<text x="81.30" y="147.70" font-size="1.7" text-anchor="middle" font-weight="normal" fill="#555" dominant-baseline="central"  stroke="#555" stroke-width="0.119" stroke-opacity="0.6">Xxx</text>
<text x="81.30" y="149.40" font-size="1.7" text-anchor="middle" font-weight="normal" fill="#555" dominant-baseline="central"  stroke="#555" stroke-width="0.119" stroke-opacity="0.6">000</text>
<circle cx="74.20" cy="160.20" r="3.30" fill="#d9c6e6" stroke="#b8a0cc" stroke-width="0.5" />
<text x="74.20" y="159.40" font-size="1.7" text-anchor="middle" font-weight="normal" fill="#555" dominant-baseline="central"  stroke="#555" stroke-width="0.119" stroke-opacity="0.6">Xxx</text>
<text x="74.20" y="161.10" font-size="1.7" text-anchor="middle" font-weight="normal" fill="#555" dominant-baseline="central"  stroke="#555" stroke-width="0.119" stroke-opacity="0.6">000</text>
<circle cx="83.20" cy="169.70" r="4.20" fill="#c8e2f4" stroke="none" stroke-width="0" filter="url(#bl05)" opacity="0.9"/>
<circle cx="82.50" cy="170.30" r="3.30" fill="#d9c6e6" stroke="#b8a0cc" stroke-width="0.5" />
<text x="82.50" y="169.50" font-size="1.7" text-anchor="middle" font-weight="normal" fill="#555" dominant-baseline="central"  stroke="#555" stroke-width="0.119" stroke-opacity="0.6">Xxx</text>
<text x="82.50" y="171.20" font-size="1.7" text-anchor="middle" font-weight="normal" fill="#555" dominant-baseline="central"  stroke="#555" stroke-width="0.119" stroke-opacity="0.6">000</text>
<circle cx="96.40" cy="164.90" r="4.60" fill="#8cc4ee" stroke="none" stroke-width="0" filter="url(#bl05)" opacity="0.9"/>
<circle cx="95.60" cy="165.70" r="3.30" fill="#d9c6e6" stroke="#b8a0cc" stroke-width="0.5" />
<text x="95.60" y="164.90" font-size="1.7" text-anchor="middle" font-weight="normal" fill="#555" dominant-baseline="central"  stroke="#555" stroke-width="0.119" stroke-opacity="0.6">Xxx</text>
<text x="95.60" y="166.60" font-size="1.7" text-anchor="middle" font-weight="normal" fill="#555" dominant-baseline="central"  stroke="#555" stroke-width="0.119" stroke-opacity="0.6">000</text>
<circle cx="20.50" cy="180.00" r="4.80" fill="#5aa8e6" stroke="none" stroke-width="0" filter="url(#bl05)" opacity="0.9"/>
<circle cx="21.30" cy="180.00" r="3.30" fill="#d9c6e6" stroke="#3a3a9a" stroke-width="0.5" />
<text x="21.30" y="179.20" font-size="1.7" text-anchor="middle" font-weight="normal" fill="#555" dominant-baseline="central"  stroke="#555" stroke-width="0.119" stroke-opacity="0.6">Xxx</text>
<text x="21.30" y="180.90" font-size="1.7" text-anchor="middle" font-weight="normal" fill="#555" dominant-baseline="central"  stroke="#555" stroke-width="0.119" stroke-opacity="0.6">000</text>
<circle cx="22.80" cy="197.80" r="3.30" fill="#d9c6e6" stroke="#b8a0cc" stroke-width="0.5" />
<text x="22.80" y="197.00" font-size="1.7" text-anchor="middle" font-weight="normal" fill="#555" dominant-baseline="central"  stroke="#555" stroke-width="0.119" stroke-opacity="0.6">Xxx</text>
<text x="22.80" y="198.70" font-size="1.7" text-anchor="middle" font-weight="normal" fill="#555" dominant-baseline="central"  stroke="#555" stroke-width="0.119" stroke-opacity="0.6">000</text>
<circle cx="25.90" cy="218.00" r="3.30" fill="#d9c6e6" stroke="#3a3a9a" stroke-width="0.5" />
<text x="25.90" y="217.20" font-size="1.7" text-anchor="middle" font-weight="normal" fill="#555" dominant-baseline="central"  stroke="#555" stroke-width="0.119" stroke-opacity="0.6">Xxx</text>
<text x="25.90" y="218.90" font-size="1.7" text-anchor="middle" font-weight="normal" fill="#555" dominant-baseline="central"  stroke="#555" stroke-width="0.119" stroke-opacity="0.6">000</text>
<circle cx="52.20" cy="215.50" r="3.30" fill="#c6e9b0" stroke="#8cc070" stroke-width="0.5" />
<text x="52.20" y="214.70" font-size="1.7" text-anchor="middle" font-weight="normal" fill="#555" dominant-baseline="central"  stroke="#555" stroke-width="0.119" stroke-opacity="0.6">Xxx</text>
<text x="52.20" y="216.40" font-size="1.7" text-anchor="middle" font-weight="normal" fill="#555" dominant-baseline="central"  stroke="#555" stroke-width="0.119" stroke-opacity="0.6">000</text>
<circle cx="91.60" cy="215.10" r="4.70" fill="#7ab8ec" stroke="none" stroke-width="0" filter="url(#bl05)" opacity="0.9"/>
<circle cx="91.00" cy="214.30" r="3.30" fill="#d9c6e6" stroke="#3a3a9a" stroke-width="0.5" />
<text x="91.00" y="213.50" font-size="1.7" text-anchor="middle" font-weight="normal" fill="#555" dominant-baseline="central"  stroke="#555" stroke-width="0.119" stroke-opacity="0.6">Xxx</text>
<text x="91.00" y="215.20" font-size="1.7" text-anchor="middle" font-weight="normal" fill="#555" dominant-baseline="central"  stroke="#555" stroke-width="0.119" stroke-opacity="0.6">000</text>
<circle cx="77.30" cy="228.40" r="3.30" fill="#d9c6e6" stroke="#b8a0cc" stroke-width="0.5" />
<text x="77.30" y="227.60" font-size="1.7" text-anchor="middle" font-weight="normal" fill="#555" dominant-baseline="central"  stroke="#555" stroke-width="0.119" stroke-opacity="0.6">Xxx</text>
<text x="77.30" y="229.30" font-size="1.7" text-anchor="middle" font-weight="normal" fill="#555" dominant-baseline="central"  stroke="#555" stroke-width="0.119" stroke-opacity="0.6">000</text>
<circle cx="98.70" cy="226.80" r="3.30" fill="#d9c6e6" stroke="#3a3a9a" stroke-width="0.5" />
<text x="98.70" y="226.00" font-size="1.7" text-anchor="middle" font-weight="normal" fill="#555" dominant-baseline="central"  stroke="#555" stroke-width="0.119" stroke-opacity="0.6">Xxx</text>
<text x="98.70" y="227.70" font-size="1.7" text-anchor="middle" font-weight="normal" fill="#555" dominant-baseline="central"  stroke="#555" stroke-width="0.119" stroke-opacity="0.6">000</text>
<line x1="62.60" y1="140.90" x2="51.00" y2="153.50" stroke="#3cb84a" stroke-width="0.4" />
<line x1="21.30" y1="180.00" x2="37.50" y2="186.60" stroke="#3cb84a" stroke-width="0.4" />
<line x1="91.00" y1="214.30" x2="88.00" y2="194.50" stroke="#3cb84a" stroke-width="0.4" />
<path d="M50.30,150.80 L56.02,154.10 L56.02,160.70 L50.30,164.00 L44.58,160.70 L44.58,154.10 L50.30,150.80" stroke="#555" stroke-width="0.85" fill="none" />
<path d="M50.30,164.00 L50.10,172.50" stroke="#555" stroke-width="0.85" fill="none" />
<path d="M50.10,172.50 L56.30,175.90 L56.30,183.20 L50.10,186.90 L43.50,183.20 L43.50,176.00 L50.10,172.50" stroke="#555" stroke-width="0.85" fill="none" />
<path d="M56.30,183.20 L62.00,186.90 L62.00,193.20 L56.30,196.50 L50.10,193.20 L50.10,186.90" stroke="#555" stroke-width="0.85" fill="none" />
<path d="M43.50,183.20 L37.50,186.60" stroke="#555" stroke-width="0.85" fill="none" />
<path d="M50.10,193.20 L44.00,196.60" stroke="#555" stroke-width="0.85" fill="none" />
<path d="M62.00,186.90 L67.60,183.20 L68.20,176.30" stroke="#555" stroke-width="0.85" fill="none" />
<path d="M62.00,193.20 L67.60,196.60 L67.60,203.00 L73.00,206.50 L79.00,203.00 L84.00,200.00 L88.00,194.50" stroke="#555" stroke-width="0.85" fill="none" />
<path d="M88.00,194.50 L87.50,187.50 L92.50,184.50 L97.50,187.50 L96.50,193.50 L88.00,194.50" stroke="#555" stroke-width="0.85" fill="none" />
<circle cx="56.30" cy="175.90" r="0.90" fill="#ffffff" stroke="none" stroke-width="0" />
<text x="56.30" y="175.90" font-size="2.6" text-anchor="middle" font-weight="normal" fill="#e02020" dominant-baseline="central"  stroke="#e02020" stroke-width="0.182" stroke-opacity="0.6">O</text>
<circle cx="37.50" cy="186.60" r="0.90" fill="#ffffff" stroke="none" stroke-width="0" />
<text x="37.50" y="186.60" font-size="2.6" text-anchor="middle" font-weight="normal" fill="#e02020" dominant-baseline="central"  stroke="#e02020" stroke-width="0.182" stroke-opacity="0.6">O</text>
<circle cx="67.60" cy="183.20" r="0.90" fill="#ffffff" stroke="none" stroke-width="0" />
<text x="67.60" y="183.20" font-size="2.6" text-anchor="middle" font-weight="normal" fill="#e02020" dominant-baseline="central"  stroke="#e02020" stroke-width="0.182" stroke-opacity="0.6">O</text>
<circle cx="67.60" cy="196.60" r="0.90" fill="#ffffff" stroke="none" stroke-width="0" />
<text x="67.60" y="196.60" font-size="2.6" text-anchor="middle" font-weight="normal" fill="#e02020" dominant-baseline="central"  stroke="#e02020" stroke-width="0.182" stroke-opacity="0.6">O</text>
<text x="42.50" y="196.80" font-size="2.4" text-anchor="middle" font-weight="normal" fill="#e02020" dominant-baseline="central"  stroke="#e02020" stroke-width="0.168" stroke-opacity="0.6">HO</text>
<circle cx="88.00" cy="194.50" r="0.80" fill="#3050c0" stroke="none" stroke-width="0" />
<g clip-path="url(#molclip)">
<rect x="128.10" y="141.00" width="127.90" height="85.60" fill="#6c6c6c" stroke="none" stroke-width="0" />
<path d="M145,141 C146,155 145,170 147,185" stroke="#8a8a8a" stroke-width="9" fill="none" opacity="0.9" stroke-linecap="round" filter="url(#bl2)"/>
<path d="M162,147 C175,146 190,146 204,150" stroke="#858585" stroke-width="6" fill="none" opacity="0.8" stroke-linecap="round" filter="url(#bl2)"/>
<path d="M178,170 C185,168 195,172 200,180" stroke="#8a8a8a" stroke-width="5" fill="none" opacity="0.7" stroke-linecap="round" filter="url(#bl2)"/>
<path d="M172,215 C185,219 200,221 215,220" stroke="#808080" stroke-width="6" fill="none" opacity="0.8" stroke-linecap="round" filter="url(#bl2)"/>
<path d="M222,205 C232,208 240,212 247,218" stroke="#7c7c7c" stroke-width="5" fill="none" opacity="0.8" stroke-linecap="round" filter="url(#bl2)"/>
<path d="M210,168 C222,170 235,172 244,176" stroke="#7e7e7e" stroke-width="5" fill="none" opacity="0.7" stroke-linecap="round" filter="url(#bl2)"/>
<path d="M198,182 C205,186 208,190 210,195" stroke="#888" stroke-width="4" fill="none" opacity="0.6" stroke-linecap="round" filter="url(#bl2)"/>
<ellipse cx="222" cy="156" rx="14" ry="9" fill="#2a3cc8" opacity="1" filter="url(#bl1)"/>
<ellipse cx="243" cy="193" rx="12" ry="11" fill="#2a3cc8" opacity="1" filter="url(#bl1)"/>
<ellipse cx="154" cy="199" rx="14" ry="14" fill="#2a3cc8" opacity="1" filter="url(#bl1)"/>
<ellipse cx="196" cy="207" rx="7" ry="4" fill="#2a3cc8" opacity="0.85" filter="url(#bl1)"/>
<ellipse cx="212" cy="211" rx="9" ry="4" fill="#2a3cc8" opacity="0.85" filter="url(#bl1)"/>
<ellipse cx="229" cy="216" rx="7" ry="4" fill="#2a3cc8" opacity="0.9" filter="url(#bl1)"/>
<ellipse cx="134.5" cy="145" rx="2.5" ry="4" fill="#2a3cc8" opacity="0.9" filter="url(#bl05)"/>
<ellipse cx="166" cy="211" rx="5" ry="4" fill="#2a3cc8" opacity="0.85" filter="url(#bl1)"/>
<ellipse cx="207" cy="195" rx="7" ry="6" fill="#2a3cc8" opacity="0.85" filter="url(#bl1)"/>
<ellipse cx="222" cy="186" rx="4" ry="3" fill="#2a3cc8" opacity="0.7" filter="url(#bl1)"/>
<ellipse cx="143" cy="188" rx="5" ry="4" fill="#2a3cc8" opacity="0.9" filter="url(#bl1)"/>
<ellipse cx="145" cy="155" rx="7" ry="7.5" fill="#c41c1c" opacity="0.75" filter="url(#bl1)"/>
<ellipse cx="195" cy="153" rx="10" ry="5.5" fill="#c41c1c" opacity="0.75" filter="url(#bl1)"/>
<ellipse cx="224" cy="166" rx="7" ry="5" fill="#c41c1c" opacity="0.8" filter="url(#bl1)"/>
<ellipse cx="178" cy="195" rx="11" ry="7.5" fill="#c41c1c" opacity="0.95" filter="url(#bl1)"/>
<ellipse cx="168" cy="168" rx="3" ry="3" fill="#c41c1c" opacity="0.7" filter="url(#bl1)"/>
<ellipse cx="200" cy="186" rx="4" ry="3" fill="#c41c1c" opacity="0.8" filter="url(#bl1)"/>
<ellipse cx="172" cy="205" rx="3" ry="3" fill="#c41c1c" opacity="0.6" filter="url(#bl1)"/>
<ellipse cx="215" cy="205" rx="3" ry="2" fill="#c41c1c" opacity="0.6" filter="url(#bl1)"/>
<ellipse cx="236" cy="178" rx="3" ry="3" fill="#c41c1c" opacity="0.5" filter="url(#bl1)"/>
<ellipse cx="146" cy="161.5" rx="3.2" ry="2.3" fill="#3ed6c4" filter="url(#bl05)"/>
<ellipse cx="146" cy="148" rx="2.3" ry="1.8" fill="#3ed6c4" filter="url(#bl05)"/>
<ellipse cx="206" cy="197.5" rx="3.5" ry="3" fill="#3ed6c4" filter="url(#bl05)"/>
<ellipse cx="196" cy="143.5" rx="2.5" ry="2" fill="#3ed6c4" filter="url(#bl05)"/>
<ellipse cx="210.5" cy="160.5" rx="2" ry="2.5" fill="#3ed6c4" filter="url(#bl05)"/>
<ellipse cx="185.5" cy="190" rx="2.2" ry="2.2" fill="#3ed6c4" filter="url(#bl05)"/>
<ellipse cx="217" cy="163" rx="1.5" ry="1.5" fill="#3ed6c4" filter="url(#bl05)"/>
<ellipse cx="153.5" cy="145.5" rx="2.5" ry="4" fill="#c8c0f0" opacity="0.8" filter="url(#bl05)"/>
<g filter="url(#bl05)" fill="#000">
<path d="M126,139 L133,139 C132,150 132.5,162 133.5,172 C135,180 136.5,190 138.5,198 C140,205 144,210 150,213 C157,217 163,220 168,224 L172,229 L126,229 Z"/>
<path d="M206,139 L258,139 L258,177 C254,176 250,173 248,168 C246,162 243,158 238,156 C233,154 229,151 226,147 C220,144 213,142 206,141 Z"/>
<path d="M258,203 C256,211 252,218 247,223 L241,229 L258,229 Z"/>
<path d="M157,167 C156,174 157,182 160,186 C164,189 171,188 175,184 C177,178 175,169 170,165 C166,162 160,163 157,167 Z"/>
</g>
<path d="M128,174 C131,175 134,177 135,180 L131,182 L128,181 Z" fill="#d01c1c" filter="url(#bl05)"/>
<path d="M128,141 L132,141 L131,146 L128,146 Z" fill="#c01c1c" filter="url(#bl05)"/>
<path d="M228,143 C232,143.5 236,144.5 240,146 L241,148 C236,148 232,147.5 229,146.5 Z" fill="#2a40c8"/>
<path d="M240,145.5 C244,149 246,154 245,159 C244,162 242,164 240,166 L238.5,164 C241,160 242,155 239,149 Z" fill="#d02020"/>
<path d="M253,206 C256,210 256,218 254,223 L252,222 C253,217 253,211 251,207 Z" fill="#d02020" filter="url(#bl05)"/>
<path d="M158,168 C160,166 163,167 163,169 L160,171 Z" fill="#c01c1c" filter="url(#bl05)"/>
<path d="M160,184 C164,186 170,186 173,183 L173,185.5 C169,187.5 164,187 160,186 Z" fill="#c01c1c" filter="url(#bl05)"/>
<line x1="142.50" y1="165.50" x2="143.30" y2="171.50" stroke="#f0f0f0" stroke-width="1.3" filter="url(#bl05)" stroke-linecap="round"/>
<line x1="145.20" y1="177.00" x2="146.20" y2="181.50" stroke="#f0f0f0" stroke-width="1.2" filter="url(#bl05)" stroke-linecap="round"/>
<line x1="231.60" y1="160.80" x2="233.50" y2="161.30" stroke="#f0f0f0" stroke-width="1.2" filter="url(#bl05)" stroke-linecap="round"/>
<line x1="242.00" y1="169.50" x2="243.00" y2="170.50" stroke="#f0f0f0" stroke-width="1" filter="url(#bl05)" stroke-linecap="round"/>
<line x1="206.00" y1="145.50" x2="206.60" y2="147.00" stroke="#f0f0f0" stroke-width="1" filter="url(#bl05)" stroke-linecap="round"/>
<line x1="199.00" y1="158.80" x2="199.60" y2="159.50" stroke="#f0f0f0" stroke-width="1" filter="url(#bl05)" stroke-linecap="round"/>
<line x1="152.00" y1="198.00" x2="153.00" y2="201.00" stroke="#f0f0f0" stroke-width="1.1" filter="url(#bl05)" stroke-linecap="round"/>
<line x1="148.00" y1="195.00" x2="148.50" y2="197.00" stroke="#f0f0f0" stroke-width="0.8" filter="url(#bl05)" stroke-linecap="round"/>
<line x1="167.00" y1="215.00" x2="167.80" y2="217.50" stroke="#f0f0f0" stroke-width="1.1" filter="url(#bl05)" stroke-linecap="round"/>
<line x1="184.00" y1="223.00" x2="186.00" y2="223.00" stroke="#f0f0f0" stroke-width="1" filter="url(#bl05)" stroke-linecap="round"/>
<line x1="221.00" y1="215.00" x2="222.00" y2="215.50" stroke="#f0f0f0" stroke-width="0.8" filter="url(#bl05)" stroke-linecap="round"/>
<line x1="244.00" y1="196.00" x2="245.00" y2="197.00" stroke="#f0f0f0" stroke-width="0.9" filter="url(#bl05)" stroke-linecap="round"/>
<line x1="137.00" y1="160.00" x2="137.50" y2="163.00" stroke="#f0f0f0" stroke-width="0.9" filter="url(#bl05)" stroke-linecap="round"/>
<line x1="188.00" y1="170.00" x2="190.00" y2="169.00" stroke="#f0f0f0" stroke-width="0.9" filter="url(#bl05)" stroke-linecap="round"/>
<line x1="176.00" y1="150.00" x2="178.00" y2="150.00" stroke="#f0f0f0" stroke-width="0.8" filter="url(#bl05)" stroke-linecap="round"/>
<g stroke="#2a2a2a" stroke-width="2.8" fill="none" opacity="0.55" stroke-linejoin="round"><path d="M178.5,160.0 L174.8,166.5 L167.2,166.5 L163.5,160.0 L167.2,153.5 L174.8,153.5 Z"/><path d="M188.5,182.5 L184.8,189.0 L177.2,189.0 L173.5,182.5 L177.2,176.0 L184.8,176.0 Z"/><path d="M199.8,176.0 L196.0,182.5 L188.5,182.5 L184.8,176.0 L188.5,169.5 L196.0,169.5 Z"/></g>
<g stroke="#8e8e8e" stroke-width="1.6" fill="none" opacity="0.95" stroke-linejoin="round"><path d="M178.5,160.0 L174.8,166.5 L167.2,166.5 L163.5,160.0 L167.2,153.5 L174.8,153.5 Z"/><path d="M188.5,182.5 L184.8,189.0 L177.2,189.0 L173.5,182.5 L177.2,176.0 L184.8,176.0 Z"/><path d="M199.8,176.0 L196.0,182.5 L188.5,182.5 L184.8,176.0 L188.5,169.5 L196.0,169.5 Z"/></g>
<g stroke="#a0a0a0" stroke-width="0.9" fill="none" opacity="0.9" stroke-linejoin="round"><path d="M200,183 L207,188 L213,186 L219,191 L226,190 L229,196 L224,201 L217,199 L214,193"/><path d="M175,166.5 L178,175.5 M173.5,190 L170,195 M200,168 L205,164 M229,196 L234,199 M226,190 L229,185 M217,199 L215,205 M164,156 L160,153 M178,155 L183,152"/><path d="M140,192 L143,194 M136,190 L140,192 L140,198"/></g>
<path d="M187,168 L190,171 M197,183 L200,186 M176,190 L174,194" stroke="#d02020" stroke-width="0.8"/>
<text x="184.60" y="146.00" font-size="6.6" text-anchor="middle" font-weight="bold" fill="#f4f43c" dominant-baseline="central" >Leu924</text>
<text x="173.60" y="201.40" font-size="6.6" text-anchor="middle" font-weight="bold" fill="#f4f43c" dominant-baseline="central" >Arg922</text>
<text x="237.20" y="183.20" font-size="6.6" text-anchor="middle" font-weight="bold" fill="#f4f43c" dominant-baseline="central" >Lys939</text>
</g>
<line x1="291.30" y1="150.50" x2="291.30" y2="223.30" stroke="#222" stroke-width="0.7" />
<line x1="291.30" y1="223.30" x2="383.50" y2="223.30" stroke="#222" stroke-width="0.7" />
<line x1="289.70" y1="222.82" x2="291.30" y2="222.82" stroke="#222" stroke-width="0.6" />
<text x="288.70" y="222.82" font-size="7" text-anchor="end" font-weight="normal" fill="#222" dominant-baseline="central" >-4</text>
<line x1="290.40" y1="217.19" x2="291.30" y2="217.19" stroke="#222" stroke-width="0.6" />
<line x1="289.70" y1="211.56" x2="291.30" y2="211.56" stroke="#222" stroke-width="0.6" />
<text x="288.70" y="211.56" font-size="7" text-anchor="end" font-weight="normal" fill="#222" dominant-baseline="central" >-2</text>
<line x1="290.40" y1="205.93" x2="291.30" y2="205.93" stroke="#222" stroke-width="0.6" />
<line x1="289.70" y1="200.30" x2="291.30" y2="200.30" stroke="#222" stroke-width="0.6" />
<text x="288.70" y="200.30" font-size="7" text-anchor="end" font-weight="normal" fill="#222" dominant-baseline="central" >0</text>
<line x1="290.40" y1="194.67" x2="291.30" y2="194.67" stroke="#222" stroke-width="0.6" />
<line x1="289.70" y1="189.04" x2="291.30" y2="189.04" stroke="#222" stroke-width="0.6" />
<text x="288.70" y="189.04" font-size="7" text-anchor="end" font-weight="normal" fill="#222" dominant-baseline="central" >2</text>
<line x1="290.40" y1="183.41" x2="291.30" y2="183.41" stroke="#222" stroke-width="0.6" />
<line x1="289.70" y1="177.78" x2="291.30" y2="177.78" stroke="#222" stroke-width="0.6" />
<text x="288.70" y="177.78" font-size="7" text-anchor="end" font-weight="normal" fill="#222" dominant-baseline="central" >4</text>
<line x1="290.40" y1="172.15" x2="291.30" y2="172.15" stroke="#222" stroke-width="0.6" />
<line x1="289.70" y1="166.52" x2="291.30" y2="166.52" stroke="#222" stroke-width="0.6" />
<text x="288.70" y="166.52" font-size="7" text-anchor="end" font-weight="normal" fill="#222" dominant-baseline="central" >6</text>
<line x1="290.40" y1="160.89" x2="291.30" y2="160.89" stroke="#222" stroke-width="0.6" />
<line x1="289.70" y1="155.26" x2="291.30" y2="155.26" stroke="#222" stroke-width="0.6" />
<text x="288.70" y="155.26" font-size="7" text-anchor="end" font-weight="normal" fill="#222" dominant-baseline="central" >8</text>
<line x1="291.70" y1="223.30" x2="291.70" y2="224.90" stroke="#222" stroke-width="0.6" />
<text x="291.70" y="228.80" font-size="7" text-anchor="middle" font-weight="normal" fill="#222" dominant-baseline="central" >-100</text>
<line x1="306.85" y1="223.30" x2="306.85" y2="224.20" stroke="#222" stroke-width="0.6" />
<line x1="322.00" y1="223.30" x2="322.00" y2="224.90" stroke="#222" stroke-width="0.6" />
<text x="322.00" y="228.80" font-size="7" text-anchor="middle" font-weight="normal" fill="#222" dominant-baseline="central" >0</text>
<line x1="337.15" y1="223.30" x2="337.15" y2="224.20" stroke="#222" stroke-width="0.6" />
<line x1="352.30" y1="223.30" x2="352.30" y2="224.90" stroke="#222" stroke-width="0.6" />
<text x="352.30" y="228.80" font-size="7" text-anchor="middle" font-weight="normal" fill="#222" dominant-baseline="central" >100</text>
<line x1="367.45" y1="223.30" x2="367.45" y2="224.20" stroke="#222" stroke-width="0.6" />
<line x1="382.60" y1="223.30" x2="382.60" y2="224.90" stroke="#222" stroke-width="0.6" />
<text x="382.60" y="228.80" font-size="7" text-anchor="middle" font-weight="normal" fill="#222" dominant-baseline="central" >200</text>
<text x="338.30" y="235.20" font-size="7.8" text-anchor="middle" font-weight="normal" fill="#222" dominant-baseline="central" >Time</text>
<text x="276.90" y="186.60" font-size="7.4" text-anchor="middle" font-weight="normal" fill="#222" dominant-baseline="central" transform="rotate(-90 276.9 186.6)">Response</text>
<path d="M304.00,201.60 L310.00,201.40 L316.00,201.00 L321.50,200.30" stroke="#3aa04a" stroke-width="0.55" fill="none" />
<circle cx="307.00" cy="201.60" r="0.50" fill="#c03030" stroke="none" stroke-width="0" />
<path d="M321.80,200.30 L322.30,175.30 L325.00,174.50 L327.00,171.00 L329.00,169.00 L333.00,167.50 L336.00,165.00 L340.00,162.70 L340.30,193.40 L342.00,192.80 L345.00,193.80 L355.00,193.90 L367.80,193.70" stroke="#3cb050" stroke-width="0.5" fill="none" />
<path d="M321.80,200.30 L322.30,189.40 L326.00,188.20 L330.00,186.50 L335.00,184.50 L340.00,182.20 L340.30,196.10 L350.00,195.80 L367.80,195.50" stroke="#a050e0" stroke-width="0.5" fill="none" />
<path d="M321.80,200.30 L322.30,194.30 L326.00,193.20 L330.00,192.30 L335.00,191.20 L340.00,189.80 L340.30,196.70 L350.00,196.50 L367.80,196.30" stroke="#3060e0" stroke-width="0.5" fill="none" />
<path d="M321.80,200.30 L322.30,202.40 L326.00,202.20 L330.00,201.60 L335.00,201.10 L340.00,200.30 L340.30,197.40 L350.00,197.30 L367.80,197.20" stroke="#e03030" stroke-width="0.5" fill="none" />
<path d="M321.80,200.30 L322.30,204.60 L326.00,204.80 L330.00,204.70 L333.00,205.50 L336.00,204.60 L340.00,203.30 L340.30,198.50 L350.00,198.30 L367.80,198.20" stroke="#606060" stroke-width="0.5" fill="none" />
<text x="383.00" y="144.70" font-size="7.45" text-anchor="middle" font-weight="normal" fill="#222" dominant-baseline="central" >WT DH/PH domain of LARG</text>
<line x1="399.30" y1="153.50" x2="399.30" y2="223.50" stroke="#222" stroke-width="0.7" />
<line x1="399.30" y1="223.50" x2="485.50" y2="223.50" stroke="#222" stroke-width="0.7" />
<line x1="397.70" y1="223.00" x2="399.30" y2="223.00" stroke="#222" stroke-width="0.6" />
<text x="396.70" y="223.00" font-size="7" text-anchor="end" font-weight="normal" fill="#222" dominant-baseline="central" >-2</text>
<line x1="398.40" y1="216.35" x2="399.30" y2="216.35" stroke="#222" stroke-width="0.6" />
<line x1="397.70" y1="209.70" x2="399.30" y2="209.70" stroke="#222" stroke-width="0.6" />
<text x="396.70" y="209.70" font-size="7" text-anchor="end" font-weight="normal" fill="#222" dominant-baseline="central" >0</text>
<line x1="398.40" y1="203.05" x2="399.30" y2="203.05" stroke="#222" stroke-width="0.6" />
<line x1="397.70" y1="196.40" x2="399.30" y2="196.40" stroke="#222" stroke-width="0.6" />
<text x="396.70" y="196.40" font-size="7" text-anchor="end" font-weight="normal" fill="#222" dominant-baseline="central" >2</text>
<line x1="398.40" y1="189.75" x2="399.30" y2="189.75" stroke="#222" stroke-width="0.6" />
<line x1="397.70" y1="183.10" x2="399.30" y2="183.10" stroke="#222" stroke-width="0.6" />
<text x="396.70" y="183.10" font-size="7" text-anchor="end" font-weight="normal" fill="#222" dominant-baseline="central" >4</text>
<line x1="398.40" y1="176.45" x2="399.30" y2="176.45" stroke="#222" stroke-width="0.6" />
<line x1="397.70" y1="169.80" x2="399.30" y2="169.80" stroke="#222" stroke-width="0.6" />
<text x="396.70" y="169.80" font-size="7" text-anchor="end" font-weight="normal" fill="#222" dominant-baseline="central" >6</text>
<line x1="398.40" y1="163.15" x2="399.30" y2="163.15" stroke="#222" stroke-width="0.6" />
<line x1="397.70" y1="156.50" x2="399.30" y2="156.50" stroke="#222" stroke-width="0.6" />
<text x="396.70" y="156.50" font-size="7" text-anchor="end" font-weight="normal" fill="#222" dominant-baseline="central" >8</text>
<line x1="399.30" y1="223.50" x2="399.30" y2="224.90" stroke="#222" stroke-width="0.6" />
<text x="397.20" y="229.60" font-size="5.6" text-anchor="middle" font-weight="normal" fill="#111" dominant-baseline="central" textLength="10.4" lengthAdjust="spacingAndGlyphs" stroke="#111" stroke-width="0.15">0E+0</text>
<line x1="409.68" y1="223.50" x2="409.68" y2="224.90" stroke="#222" stroke-width="0.6" />
<text x="409.68" y="229.60" font-size="5.6" text-anchor="middle" font-weight="normal" fill="#111" dominant-baseline="central" textLength="10.4" lengthAdjust="spacingAndGlyphs" stroke="#111" stroke-width="0.15">1E-6</text>
<line x1="422.16" y1="223.50" x2="422.16" y2="224.90" stroke="#222" stroke-width="0.6" />
<text x="422.16" y="229.60" font-size="5.6" text-anchor="middle" font-weight="normal" fill="#111" dominant-baseline="central" textLength="10.4" lengthAdjust="spacingAndGlyphs" stroke="#111" stroke-width="0.15">2E-6</text>
<line x1="434.64" y1="223.50" x2="434.64" y2="224.90" stroke="#222" stroke-width="0.6" />
<text x="434.64" y="229.60" font-size="5.6" text-anchor="middle" font-weight="normal" fill="#111" dominant-baseline="central" textLength="10.4" lengthAdjust="spacingAndGlyphs" stroke="#111" stroke-width="0.15">3E-6</text>
<line x1="447.12" y1="223.50" x2="447.12" y2="224.90" stroke="#222" stroke-width="0.6" />
<text x="447.12" y="229.60" font-size="5.6" text-anchor="middle" font-weight="normal" fill="#111" dominant-baseline="central" textLength="10.4" lengthAdjust="spacingAndGlyphs" stroke="#111" stroke-width="0.15">4E-6</text>
<line x1="459.60" y1="223.50" x2="459.60" y2="224.90" stroke="#222" stroke-width="0.6" />
<text x="459.60" y="229.60" font-size="5.6" text-anchor="middle" font-weight="normal" fill="#111" dominant-baseline="central" textLength="10.4" lengthAdjust="spacingAndGlyphs" stroke="#111" stroke-width="0.15">5E-6</text>
<line x1="472.08" y1="223.50" x2="472.08" y2="224.90" stroke="#222" stroke-width="0.6" />
<text x="472.08" y="229.60" font-size="5.6" text-anchor="middle" font-weight="normal" fill="#111" dominant-baseline="central" textLength="10.4" lengthAdjust="spacingAndGlyphs" stroke="#111" stroke-width="0.15">6E-6</text>
<line x1="484.56" y1="223.50" x2="484.56" y2="224.90" stroke="#222" stroke-width="0.6" />
<text x="484.56" y="229.60" font-size="5.6" text-anchor="middle" font-weight="normal" fill="#111" dominant-baseline="central" textLength="10.4" lengthAdjust="spacingAndGlyphs" stroke="#111" stroke-width="0.15">7E-6</text>
<text x="443.60" y="236.30" font-size="7.4" text-anchor="middle" font-weight="normal" fill="#222" dominant-baseline="central" >Concentration</text>
<text x="385.60" y="185.40" font-size="7.4" text-anchor="middle" font-weight="normal" fill="#222" dominant-baseline="central" transform="rotate(-90 385.6 185.4)">Response</text>
<path d="M403.7,214.7 C414,204 426,193 440,185 C452,178 464,171 476.1,164.5" stroke="#222" stroke-width="0.6" fill="none"/>
<circle cx="403.70" cy="214.70" r="0.90" fill="#333" stroke="none" stroke-width="0" />
<circle cx="409.20" cy="209.60" r="0.90" fill="#e03030" stroke="none" stroke-width="0" />
<circle cx="418.40" cy="197.70" r="0.90" fill="#3060e0" stroke="none" stroke-width="0" />
<circle cx="437.10" cy="188.70" r="0.90" fill="#a050e0" stroke="none" stroke-width="0" />
<circle cx="476.10" cy="164.50" r="0.90" fill="#3cb050" stroke="none" stroke-width="0" />
<text x="494.30" y="134.00" font-size="12" text-anchor="start" font-weight="normal" fill="#222" dominant-baseline="central" >F</text>
<text x="513.00" y="132.40" font-size="7.3" text-anchor="start" font-weight="normal" fill="#222" dominant-baseline="central" >GST-Tag</text>
<defs><linearGradient id="bg825" x1="0" y1="0" x2="0" y2="1"><stop offset="0" stop-color="#c4c4d4"/><stop offset="0.22" stop-color="#dcdce8"/><stop offset="0.78" stop-color="#dcdce8"/><stop offset="1" stop-color="#c4c4d4"/></linearGradient></defs>
<rect x="547.20" y="144.60" width="113.60" height="20.40" fill="url(#bg825)" stroke="none" stroke-width="0" />
<rect x="565.35" y="144.60" width="2.50" height="20.40" fill="#e8e8f0" stroke="none" stroke-width="0" opacity="0.25" filter="url(#bl05)"/>
<rect x="584.45" y="144.60" width="2.50" height="20.40" fill="#e8e8f0" stroke="none" stroke-width="0" opacity="0.25" filter="url(#bl05)"/>
<rect x="603.35" y="144.60" width="2.50" height="20.40" fill="#e8e8f0" stroke="none" stroke-width="0" opacity="0.25" filter="url(#bl05)"/>
<rect x="622.35" y="144.60" width="2.50" height="20.40" fill="#e8e8f0" stroke="none" stroke-width="0" opacity="0.25" filter="url(#bl05)"/>
<rect x="641.35" y="144.60" width="2.50" height="20.40" fill="#e8e8f0" stroke="none" stroke-width="0" opacity="0.25" filter="url(#bl05)"/>
<rect x="549.00" y="154.00" width="16.00" height="3.80" rx="1.90" fill="#0a0a0a" opacity="1.00" filter="url(#bl05)"/>
<rect x="568.70" y="154.07" width="15.00" height="3.66" rx="1.83" fill="#0a0a0a" opacity="0.96" filter="url(#bl05)"/>
<rect x="588.20" y="154.31" width="14.00" height="3.17" rx="1.58" fill="#0a0a0a" opacity="0.65" filter="url(#bl05)"/>
<rect x="607.00" y="154.39" width="14.00" height="3.03" rx="1.51" fill="#0a0a0a" opacity="0.56" filter="url(#bl05)"/>
<rect x="626.45" y="154.49" width="13.50" height="2.82" rx="1.41" fill="#0a0a0a" opacity="0.42" filter="url(#bl05)"/>
<rect x="645.00" y="154.51" width="14.00" height="2.78" rx="1.39" fill="#0a0a0a" opacity="0.39" filter="url(#bl05)"/>
<rect x="547.20" y="144.60" width="113.60" height="20.40" fill="none" stroke="#1a1a1a" stroke-width="1.0" />
<text x="662.60" y="152.20" font-size="7.3" text-anchor="start" font-weight="normal" fill="#222" dominant-baseline="central" >70 kD</text>
<defs><linearGradient id="bg840" x1="0" y1="0" x2="0" y2="1"><stop offset="0" stop-color="#c4c4d4"/><stop offset="0.22" stop-color="#dcdce8"/><stop offset="0.78" stop-color="#dcdce8"/><stop offset="1" stop-color="#c4c4d4"/></linearGradient></defs>
<rect x="547.20" y="170.20" width="113.60" height="20.10" fill="url(#bg840)" stroke="none" stroke-width="0" />
<rect x="565.35" y="170.20" width="2.50" height="20.10" fill="#e8e8f0" stroke="none" stroke-width="0" opacity="0.25" filter="url(#bl05)"/>
<rect x="584.45" y="170.20" width="2.50" height="20.10" fill="#e8e8f0" stroke="none" stroke-width="0" opacity="0.25" filter="url(#bl05)"/>
<rect x="603.35" y="170.20" width="2.50" height="20.10" fill="#e8e8f0" stroke="none" stroke-width="0" opacity="0.25" filter="url(#bl05)"/>
<rect x="622.35" y="170.20" width="2.50" height="20.10" fill="#e8e8f0" stroke="none" stroke-width="0" opacity="0.25" filter="url(#bl05)"/>
<rect x="641.35" y="170.20" width="2.50" height="20.10" fill="#e8e8f0" stroke="none" stroke-width="0" opacity="0.25" filter="url(#bl05)"/>
<rect x="549.00" y="180.13" width="16.00" height="3.73" rx="1.86" fill="#0a0a0a" opacity="1.00" filter="url(#bl05)"/>
<rect x="568.45" y="180.13" width="15.50" height="3.73" rx="1.86" fill="#0a0a0a" opacity="1.00" filter="url(#bl05)"/>
<rect x="587.45" y="180.13" width="15.50" height="3.73" rx="1.86" fill="#0a0a0a" opacity="1.00" filter="url(#bl05)"/>
<rect x="606.25" y="180.10" width="15.50" height="3.80" rx="1.90" fill="#0a0a0a" opacity="1.00" filter="url(#bl05)"/>
<rect x="625.70" y="180.24" width="15.00" height="3.52" rx="1.76" fill="#0a0a0a" opacity="0.87" filter="url(#bl05)"/>
<rect x="644.50" y="180.28" width="15.00" height="3.45" rx="1.72" fill="#0a0a0a" opacity="0.83" filter="url(#bl05)"/>
<rect x="547.20" y="170.20" width="113.60" height="20.10" fill="none" stroke="#1a1a1a" stroke-width="1.0" />
<text x="662.60" y="177.80" font-size="7.3" text-anchor="start" font-weight="normal" fill="#222" dominant-baseline="central" >70 kD</text>
<defs><linearGradient id="bg855" x1="0" y1="0" x2="0" y2="1"><stop offset="0" stop-color="#c4c4d4"/><stop offset="0.22" stop-color="#dcdce8"/><stop offset="0.78" stop-color="#dcdce8"/><stop offset="1" stop-color="#c4c4d4"/></linearGradient></defs>
<rect x="547.20" y="196.20" width="113.60" height="21.90" fill="url(#bg855)" stroke="none" stroke-width="0" />
<rect x="565.35" y="196.20" width="2.50" height="21.90" fill="#e8e8f0" stroke="none" stroke-width="0" opacity="0.25" filter="url(#bl05)"/>
<rect x="584.45" y="196.20" width="2.50" height="21.90" fill="#e8e8f0" stroke="none" stroke-width="0" opacity="0.25" filter="url(#bl05)"/>
<rect x="603.35" y="196.20" width="2.50" height="21.90" fill="#e8e8f0" stroke="none" stroke-width="0" opacity="0.25" filter="url(#bl05)"/>
<rect x="622.35" y="196.20" width="2.50" height="21.90" fill="#e8e8f0" stroke="none" stroke-width="0" opacity="0.25" filter="url(#bl05)"/>
<rect x="641.35" y="196.20" width="2.50" height="21.90" fill="#e8e8f0" stroke="none" stroke-width="0" opacity="0.25" filter="url(#bl05)"/>
<rect x="549.00" y="204.94" width="16.00" height="3.73" rx="1.86" fill="#0a0a0a" opacity="1.00" filter="url(#bl05)"/>
<rect x="568.45" y="204.97" width="15.50" height="3.66" rx="1.83" fill="#0a0a0a" opacity="0.96" filter="url(#bl05)"/>
<rect x="587.70" y="205.04" width="15.00" height="3.52" rx="1.76" fill="#0a0a0a" opacity="0.87" filter="url(#bl05)"/>
<rect x="606.75" y="205.22" width="14.50" height="3.17" rx="1.58" fill="#0a0a0a" opacity="0.65" filter="url(#bl05)"/>
<rect x="625.95" y="205.29" width="14.50" height="3.03" rx="1.51" fill="#0a0a0a" opacity="0.56" filter="url(#bl05)"/>
<rect x="644.75" y="205.29" width="14.50" height="3.03" rx="1.51" fill="#0a0a0a" opacity="0.56" filter="url(#bl05)"/>
<rect x="547.20" y="196.20" width="113.60" height="21.90" fill="none" stroke="#1a1a1a" stroke-width="1.0" />
<text x="662.60" y="203.80" font-size="7.3" text-anchor="start" font-weight="normal" fill="#222" dominant-baseline="central" >70 kD</text>
<defs><linearGradient id="bg870" x1="0" y1="0" x2="0" y2="1"><stop offset="0" stop-color="#c4c4d4"/><stop offset="0.22" stop-color="#dcdce8"/><stop offset="0.78" stop-color="#dcdce8"/><stop offset="1" stop-color="#c4c4d4"/></linearGradient></defs>
<rect x="547.20" y="221.20" width="113.60" height="18.60" fill="url(#bg870)" stroke="none" stroke-width="0" />
<rect x="565.35" y="221.20" width="2.50" height="18.60" fill="#e8e8f0" stroke="none" stroke-width="0" opacity="0.25" filter="url(#bl05)"/>
<rect x="584.45" y="221.20" width="2.50" height="18.60" fill="#e8e8f0" stroke="none" stroke-width="0" opacity="0.25" filter="url(#bl05)"/>
<rect x="603.35" y="221.20" width="2.50" height="18.60" fill="#e8e8f0" stroke="none" stroke-width="0" opacity="0.25" filter="url(#bl05)"/>
<rect x="622.35" y="221.20" width="2.50" height="18.60" fill="#e8e8f0" stroke="none" stroke-width="0" opacity="0.25" filter="url(#bl05)"/>
<rect x="641.35" y="221.20" width="2.50" height="18.60" fill="#e8e8f0" stroke="none" stroke-width="0" opacity="0.25" filter="url(#bl05)"/>
<rect x="549.00" y="230.42" width="16.00" height="3.76" rx="1.88" fill="#0a0a0a" opacity="1.00" filter="url(#bl05)"/>
<rect x="568.45" y="230.47" width="15.50" height="3.66" rx="1.83" fill="#0a0a0a" opacity="0.96" filter="url(#bl05)"/>
<rect x="587.70" y="230.51" width="15.00" height="3.59" rx="1.79" fill="#0a0a0a" opacity="0.92" filter="url(#bl05)"/>
<rect x="606.75" y="230.72" width="14.50" height="3.17" rx="1.58" fill="#0a0a0a" opacity="0.65" filter="url(#bl05)"/>
<rect x="626.20" y="230.86" width="14.00" height="2.89" rx="1.44" fill="#0a0a0a" opacity="0.46" filter="url(#bl05)"/>
<rect x="644.75" y="230.82" width="14.50" height="2.96" rx="1.48" fill="#0a0a0a" opacity="0.51" filter="url(#bl05)"/>
<rect x="547.20" y="221.20" width="113.60" height="18.60" fill="none" stroke="#1a1a1a" stroke-width="1.0" />
<text x="662.60" y="228.80" font-size="7.3" text-anchor="start" font-weight="normal" fill="#222" dominant-baseline="central" >70 kD</text>
<text x="540.80" y="154.80" font-size="7.3" text-anchor="end" font-weight="normal" fill="#222" dominant-baseline="central" >Control</text>
<text x="541.40" y="180.20" font-size="7.3" text-anchor="end" font-weight="normal" fill="#222" dominant-baseline="central" >GL-V9</text>
<text x="541.80" y="207.50" font-size="7.3" text-anchor="end" font-weight="normal" fill="#222" dominant-baseline="central" >Control</text>
<text x="541.80" y="233.00" font-size="7.3" text-anchor="end" font-weight="normal" fill="#222" dominant-baseline="central" >GL-V9</text>
<line x1="512.30" y1="147.50" x2="512.30" y2="187.80" stroke="#555" stroke-width="0.8" />
<line x1="512.30" y1="201.30" x2="512.30" y2="239.20" stroke="#555" stroke-width="0.8" />
<text x="505.70" y="168.50" font-size="7.3" text-anchor="middle" font-weight="normal" fill="#222" dominant-baseline="central" transform="rotate(-90 505.7 168.5)">WT</text>
<text x="505.40" y="218.50" font-size="7.3" text-anchor="middle" font-weight="normal" fill="#222" dominant-baseline="central" transform="rotate(-90 505.4 218.5)">922R&gt;A</text>
<text x="510.30" y="249.10" font-size="7.3" text-anchor="start" font-weight="normal" fill="#222" dominant-baseline="central" >Temp(°C)</text>
<text x="556.80" y="249.10" font-size="7.3" text-anchor="middle" font-weight="normal" fill="#222" dominant-baseline="central" >37</text>
<text x="575.70" y="249.10" font-size="7.3" text-anchor="middle" font-weight="normal" fill="#222" dominant-baseline="central" >41.7</text>
<text x="594.60" y="249.10" font-size="7.3" text-anchor="middle" font-weight="normal" fill="#222" dominant-baseline="central" >45.4</text>
<text x="613.20" y="249.10" font-size="7.3" text-anchor="middle" font-weight="normal" fill="#222" dominant-baseline="central" >47.3</text>
<text x="632.00" y="249.10" font-size="7.3" text-anchor="middle" font-weight="normal" fill="#222" dominant-baseline="central" >50.7</text>
<text x="650.60" y="249.10" font-size="7.3" text-anchor="middle" font-weight="normal" fill="#222" dominant-baseline="central" >52</text>
<line x1="527.60" y1="267.70" x2="527.60" y2="337.60" stroke="#222" stroke-width="0.8" />
<line x1="527.60" y1="337.60" x2="623.00" y2="337.60" stroke="#222" stroke-width="0.8" />
<line x1="525.60" y1="268.00" x2="527.60" y2="268.00" stroke="#222" stroke-width="0.7" />
<text x="525.00" y="268.00" font-size="7" text-anchor="end" font-weight="bold" fill="#222" dominant-baseline="central" >1.0</text>
<line x1="525.60" y1="302.80" x2="527.60" y2="302.80" stroke="#222" stroke-width="0.7" />
<text x="525.00" y="302.80" font-size="7" text-anchor="end" font-weight="bold" fill="#222" dominant-baseline="central" >0.5</text>
<line x1="525.60" y1="337.60" x2="527.60" y2="337.60" stroke="#222" stroke-width="0.7" />
<text x="525.00" y="337.60" font-size="7" text-anchor="end" font-weight="bold" fill="#222" dominant-baseline="central" >0.0</text>
<line x1="540.00" y1="337.60" x2="540.00" y2="339.60" stroke="#222" stroke-width="0.7" />
<text x="540.00" y="344.40" font-size="7" text-anchor="middle" font-weight="bold" fill="#222" dominant-baseline="central" >37</text>
<line x1="556.22" y1="337.60" x2="556.22" y2="339.60" stroke="#222" stroke-width="0.7" />
<text x="556.22" y="344.40" font-size="7" text-anchor="middle" font-weight="bold" fill="#222" dominant-baseline="central" >41.7</text>
<line x1="572.44" y1="337.60" x2="572.44" y2="339.60" stroke="#222" stroke-width="0.7" />
<text x="572.44" y="344.40" font-size="7" text-anchor="middle" font-weight="bold" fill="#222" dominant-baseline="central" >45.4</text>
<line x1="588.66" y1="337.60" x2="588.66" y2="339.60" stroke="#222" stroke-width="0.7" />
<text x="588.66" y="344.40" font-size="7" text-anchor="middle" font-weight="bold" fill="#222" dominant-baseline="central" >47.3</text>
<line x1="604.88" y1="337.60" x2="604.88" y2="339.60" stroke="#222" stroke-width="0.7" />
<text x="604.88" y="344.40" font-size="7" text-anchor="middle" font-weight="bold" fill="#222" dominant-baseline="central" >50.7</text>
<line x1="621.10" y1="337.60" x2="621.10" y2="339.60" stroke="#222" stroke-width="0.7" />
<text x="621.10" y="344.40" font-size="7" text-anchor="middle" font-weight="bold" fill="#222" dominant-baseline="central" >52</text>
<text x="580.20" y="355.00" font-size="5.85" text-anchor="middle" font-weight="bold" fill="#222" dominant-baseline="central" >Temperature(°C)</text>
<text x="510.20" y="303.30" font-size="7.35" text-anchor="middle" font-weight="bold" fill="#222" dominant-baseline="central" transform="rotate(-90 510.2 303.3)">Relative Abundance(%)</text>
<path d="M540.00,268.00 L556.22,281.92 L572.44,308.37 L588.66,319.99 L604.88,325.21 L621.10,331.68" stroke="#40d030" stroke-width="0.9" fill="none" />
<path d="M540.00,266.40 L541.50,269.00 L538.50,269.00 L540.00,266.40" stroke="none" stroke-width="0.8" fill="#40d030" />
<line x1="556.22" y1="279.83" x2="556.22" y2="284.01" stroke="#40d030" stroke-width="0.5" />
<line x1="555.02" y1="279.83" x2="557.42" y2="279.83" stroke="#40d030" stroke-width="0.5" />
<line x1="555.02" y1="284.01" x2="557.42" y2="284.01" stroke="#40d030" stroke-width="0.5" />
<path d="M556.22,280.32 L557.72,282.92 L554.72,282.92 L556.22,280.32" stroke="none" stroke-width="0.8" fill="#40d030" />
<line x1="572.44" y1="306.98" x2="572.44" y2="309.76" stroke="#40d030" stroke-width="0.5" />
<line x1="571.24" y1="306.98" x2="573.64" y2="306.98" stroke="#40d030" stroke-width="0.5" />
<line x1="571.24" y1="309.76" x2="573.64" y2="309.76" stroke="#40d030" stroke-width="0.5" />
<path d="M572.44,306.77 L573.94,309.37 L570.94,309.37 L572.44,306.77" stroke="none" stroke-width="0.8" fill="#40d030" />
<line x1="588.66" y1="318.60" x2="588.66" y2="321.38" stroke="#40d030" stroke-width="0.5" />
<line x1="587.46" y1="318.60" x2="589.86" y2="318.60" stroke="#40d030" stroke-width="0.5" />
<line x1="587.46" y1="321.38" x2="589.86" y2="321.38" stroke="#40d030" stroke-width="0.5" />
<path d="M588.66,318.39 L590.16,320.99 L587.16,320.99 L588.66,318.39" stroke="none" stroke-width="0.8" fill="#40d030" />
<line x1="604.88" y1="322.43" x2="604.88" y2="328.00" stroke="#40d030" stroke-width="0.5" />
<line x1="603.68" y1="322.43" x2="606.08" y2="322.43" stroke="#40d030" stroke-width="0.5" />
<line x1="603.68" y1="328.00" x2="606.08" y2="328.00" stroke="#40d030" stroke-width="0.5" />
<path d="M604.88,323.61 L606.38,326.21 L603.38,326.21 L604.88,323.61" stroke="none" stroke-width="0.8" fill="#40d030" />
<line x1="621.10" y1="329.60" x2="621.10" y2="333.77" stroke="#40d030" stroke-width="0.5" />
<line x1="619.90" y1="329.60" x2="622.30" y2="329.60" stroke="#40d030" stroke-width="0.5" />
<line x1="619.90" y1="333.77" x2="622.30" y2="333.77" stroke="#40d030" stroke-width="0.5" />
<path d="M621.10,330.08 L622.60,332.68 L619.60,332.68 L621.10,330.08" stroke="none" stroke-width="0.8" fill="#40d030" />
<path d="M540.00,268.00 L556.22,283.31 L572.44,309.76 L588.66,321.31 L604.88,330.29 L621.10,331.34" stroke="#b040f0" stroke-width="0.9" fill="none" />
<path d="M540.00,269.60 L541.50,267.00 L538.50,267.00 L540.00,269.60" stroke="none" stroke-width="0.8" fill="#b040f0" />
<line x1="556.22" y1="281.92" x2="556.22" y2="284.70" stroke="#b040f0" stroke-width="0.5" />
<line x1="555.02" y1="281.92" x2="557.42" y2="281.92" stroke="#b040f0" stroke-width="0.5" />
<line x1="555.02" y1="284.70" x2="557.42" y2="284.70" stroke="#b040f0" stroke-width="0.5" />
<path d="M556.22,284.91 L557.72,282.31 L554.72,282.31 L556.22,284.91" stroke="none" stroke-width="0.8" fill="#b040f0" />
<line x1="572.44" y1="308.37" x2="572.44" y2="311.15" stroke="#b040f0" stroke-width="0.5" />
<line x1="571.24" y1="308.37" x2="573.64" y2="308.37" stroke="#b040f0" stroke-width="0.5" />
<line x1="571.24" y1="311.15" x2="573.64" y2="311.15" stroke="#b040f0" stroke-width="0.5" />
<path d="M572.44,311.36 L573.94,308.76 L570.94,308.76 L572.44,311.36" stroke="none" stroke-width="0.8" fill="#b040f0" />
<line x1="588.66" y1="319.92" x2="588.66" y2="322.71" stroke="#b040f0" stroke-width="0.5" />
<line x1="587.46" y1="319.92" x2="589.86" y2="319.92" stroke="#b040f0" stroke-width="0.5" />
<line x1="587.46" y1="322.71" x2="589.86" y2="322.71" stroke="#b040f0" stroke-width="0.5" />
<path d="M588.66,322.91 L590.16,320.31 L587.16,320.31 L588.66,322.91" stroke="none" stroke-width="0.8" fill="#b040f0" />
<line x1="604.88" y1="328.90" x2="604.88" y2="331.68" stroke="#b040f0" stroke-width="0.5" />
<line x1="603.68" y1="328.90" x2="606.08" y2="328.90" stroke="#b040f0" stroke-width="0.5" />
<line x1="603.68" y1="331.68" x2="606.08" y2="331.68" stroke="#b040f0" stroke-width="0.5" />
<path d="M604.88,331.89 L606.38,329.29 L603.38,329.29 L604.88,331.89" stroke="none" stroke-width="0.8" fill="#b040f0" />
<line x1="621.10" y1="329.94" x2="621.10" y2="332.73" stroke="#b040f0" stroke-width="0.5" />
<line x1="619.90" y1="329.94" x2="622.30" y2="329.94" stroke="#b040f0" stroke-width="0.5" />
<line x1="619.90" y1="332.73" x2="622.30" y2="332.73" stroke="#b040f0" stroke-width="0.5" />
<path d="M621.10,332.94 L622.60,330.34 L619.60,330.34 L621.10,332.94" stroke="none" stroke-width="0.8" fill="#b040f0" />
<path d="M540.00,268.00 L556.22,280.53 L572.44,313.24 L588.66,322.98 L604.88,330.99 L621.10,330.64" stroke="#2030f0" stroke-width="0.9" fill="none" />
<circle cx="540.00" cy="268.00" r="1.40" fill="#2030f0" stroke="none" stroke-width="0" />
<line x1="556.22" y1="278.44" x2="556.22" y2="282.62" stroke="#2030f0" stroke-width="0.5" />
<line x1="555.02" y1="278.44" x2="557.42" y2="278.44" stroke="#2030f0" stroke-width="0.5" />
<line x1="555.02" y1="282.62" x2="557.42" y2="282.62" stroke="#2030f0" stroke-width="0.5" />
<circle cx="556.22" cy="280.53" r="1.40" fill="#2030f0" stroke="none" stroke-width="0" />
<line x1="572.44" y1="311.85" x2="572.44" y2="314.63" stroke="#2030f0" stroke-width="0.5" />
<line x1="571.24" y1="311.85" x2="573.64" y2="311.85" stroke="#2030f0" stroke-width="0.5" />
<line x1="571.24" y1="314.63" x2="573.64" y2="314.63" stroke="#2030f0" stroke-width="0.5" />
<circle cx="572.44" cy="313.24" r="1.40" fill="#2030f0" stroke="none" stroke-width="0" />
<line x1="588.66" y1="321.59" x2="588.66" y2="324.38" stroke="#2030f0" stroke-width="0.5" />
<line x1="587.46" y1="321.59" x2="589.86" y2="321.59" stroke="#2030f0" stroke-width="0.5" />
<line x1="587.46" y1="324.38" x2="589.86" y2="324.38" stroke="#2030f0" stroke-width="0.5" />
<circle cx="588.66" cy="322.98" r="1.40" fill="#2030f0" stroke="none" stroke-width="0" />
<line x1="604.88" y1="328.90" x2="604.88" y2="333.08" stroke="#2030f0" stroke-width="0.5" />
<line x1="603.68" y1="328.90" x2="606.08" y2="328.90" stroke="#2030f0" stroke-width="0.5" />
<line x1="603.68" y1="333.08" x2="606.08" y2="333.08" stroke="#2030f0" stroke-width="0.5" />
<circle cx="604.88" cy="330.99" r="1.40" fill="#2030f0" stroke="none" stroke-width="0" />
<line x1="621.10" y1="327.86" x2="621.10" y2="333.42" stroke="#2030f0" stroke-width="0.5" />
<line x1="619.90" y1="327.86" x2="622.30" y2="327.86" stroke="#2030f0" stroke-width="0.5" />
<line x1="619.90" y1="333.42" x2="622.30" y2="333.42" stroke="#2030f0" stroke-width="0.5" />
<circle cx="621.10" cy="330.64" r="1.40" fill="#2030f0" stroke="none" stroke-width="0" />
<path d="M540.00,268.00 L556.22,273.57 L572.44,281.92 L588.66,291.32 L604.88,313.52 L621.10,321.87" stroke="#f03030" stroke-width="0.9" fill="none" />
<rect x="538.60" y="266.60" width="2.80" height="2.80" fill="#f03030" stroke="none" stroke-width="0" />
<line x1="556.22" y1="270.78" x2="556.22" y2="276.35" stroke="#f03030" stroke-width="0.5" />
<line x1="555.02" y1="270.78" x2="557.42" y2="270.78" stroke="#f03030" stroke-width="0.5" />
<line x1="555.02" y1="276.35" x2="557.42" y2="276.35" stroke="#f03030" stroke-width="0.5" />
<rect x="554.82" y="272.17" width="2.80" height="2.80" fill="#f03030" stroke="none" stroke-width="0" />
<line x1="572.44" y1="279.14" x2="572.44" y2="284.70" stroke="#f03030" stroke-width="0.5" />
<line x1="571.24" y1="279.14" x2="573.64" y2="279.14" stroke="#f03030" stroke-width="0.5" />
<line x1="571.24" y1="284.70" x2="573.64" y2="284.70" stroke="#f03030" stroke-width="0.5" />
<rect x="571.04" y="280.52" width="2.80" height="2.80" fill="#f03030" stroke="none" stroke-width="0" />
<line x1="588.66" y1="286.44" x2="588.66" y2="296.19" stroke="#f03030" stroke-width="0.5" />
<line x1="587.46" y1="286.44" x2="589.86" y2="286.44" stroke="#f03030" stroke-width="0.5" />
<line x1="587.46" y1="296.19" x2="589.86" y2="296.19" stroke="#f03030" stroke-width="0.5" />
<rect x="587.26" y="289.92" width="2.80" height="2.80" fill="#f03030" stroke="none" stroke-width="0" />
<line x1="604.88" y1="311.43" x2="604.88" y2="315.61" stroke="#f03030" stroke-width="0.5" />
<line x1="603.68" y1="311.43" x2="606.08" y2="311.43" stroke="#f03030" stroke-width="0.5" />
<line x1="603.68" y1="315.61" x2="606.08" y2="315.61" stroke="#f03030" stroke-width="0.5" />
<rect x="603.48" y="312.12" width="2.80" height="2.80" fill="#f03030" stroke="none" stroke-width="0" />
<line x1="621.10" y1="320.48" x2="621.10" y2="323.26" stroke="#f03030" stroke-width="0.5" />
<line x1="619.90" y1="320.48" x2="622.30" y2="320.48" stroke="#f03030" stroke-width="0.5" />
<line x1="619.90" y1="323.26" x2="622.30" y2="323.26" stroke="#f03030" stroke-width="0.5" />
<rect x="619.70" y="320.47" width="2.80" height="2.80" fill="#f03030" stroke="none" stroke-width="0" />
<line x1="625.60" y1="264.00" x2="633.80" y2="264.00" stroke="#2030f0" stroke-width="0.9" />
<circle cx="629.50" cy="264.00" r="1.40" fill="#2030f0" stroke="none" stroke-width="0" />
<text x="634.80" y="264.00" font-size="6.6" text-anchor="start" font-weight="normal" fill="#222" dominant-baseline="central" >Control(WT)</text>
<line x1="625.60" y1="274.00" x2="633.80" y2="274.00" stroke="#f03030" stroke-width="0.9" />
<rect x="628.10" y="272.60" width="2.80" height="2.80" fill="#f03030" stroke="none" stroke-width="0" />
<text x="634.80" y="274.00" font-size="6.6" text-anchor="start" font-weight="normal" fill="#222" dominant-baseline="central" >GL-V9(WT)</text>
<line x1="625.60" y1="283.80" x2="633.80" y2="283.80" stroke="#40d030" stroke-width="0.9" />
<path d="M629.50,282.20 L631.00,284.80 L628.00,284.80 L629.50,282.20" stroke="none" stroke-width="0.8" fill="#40d030" />
<text x="634.80" y="283.80" font-size="6.6" text-anchor="start" font-weight="normal" fill="#222" dominant-baseline="central" >Control(922R&gt;A)</text>
<line x1="625.60" y1="293.30" x2="633.80" y2="293.30" stroke="#b040f0" stroke-width="0.9" />
<path d="M629.50,294.90 L631.00,292.30 L628.00,292.30 L629.50,294.90" stroke="none" stroke-width="0.8" fill="#b040f0" />
<text x="634.80" y="293.30" font-size="6.6" text-anchor="start" font-weight="normal" fill="#222" dominant-baseline="central" >GL-V9(922R&gt;A)</text>
<text x="4.00" y="250.50" font-size="12" text-anchor="start" font-weight="normal" fill="#222" dominant-baseline="central" >G</text>
<text x="42.60" y="280.00" font-size="7.3" text-anchor="end" font-weight="normal" fill="#222" dominant-baseline="central" >HA-P115</text>
<text x="42.60" y="289.20" font-size="7.3" text-anchor="end" font-weight="normal" fill="#222" dominant-baseline="central" >RhoGEF</text>
<text x="42.60" y="303.10" font-size="7.3" text-anchor="end" font-weight="normal" fill="#222" dominant-baseline="central" >GST-RhoA</text>
<text x="42.60" y="317.30" font-size="7.3" text-anchor="end" font-weight="normal" fill="#222" dominant-baseline="central" >Cell lysates</text>
<text x="42.60" y="327.20" font-size="7.3" text-anchor="end" font-weight="normal" fill="#222" dominant-baseline="central" >GL-V9(μM)</text>
<defs><linearGradient id="bg1028" x1="0" y1="0" x2="0" y2="1"><stop offset="0" stop-color="#ccccda"/><stop offset="0.22" stop-color="#e0e0ea"/><stop offset="0.78" stop-color="#e0e0ea"/><stop offset="1" stop-color="#ccccda"/></linearGradient></defs>
<rect x="47.00" y="276.00" width="80.00" height="15.30" fill="url(#bg1028)" stroke="none" stroke-width="0" />
<rect x="70.05" y="282.10" width="15.50" height="3.20" rx="1.60" fill="#0a0a0a" opacity="1.00" filter="url(#bl05)"/>
<rect x="88.65" y="282.70" width="14.50" height="2.60" rx="1.30" fill="#0a0a0a" opacity="0.72" filter="url(#bl05)"/>
<rect x="107.50" y="283.20" width="15.00" height="2.00" rx="1.00" fill="#0a0a0a" opacity="0.28" filter="url(#bl05)"/>
<rect x="47.00" y="276.00" width="80.00" height="15.30" fill="none" stroke="#1a1a1a" stroke-width="1.0" />
<defs><linearGradient id="bg1034" x1="0" y1="0" x2="0" y2="1"><stop offset="0" stop-color="#c4c4d2"/><stop offset="0.22" stop-color="#dadae4"/><stop offset="0.78" stop-color="#dadae4"/><stop offset="1" stop-color="#c4c4d2"/></linearGradient></defs>
<rect x="47.00" y="293.80" width="80.00" height="16.80" fill="url(#bg1034)" stroke="none" stroke-width="0" />
<rect x="47.00" y="293.80" width="80.00" height="16.80" fill="none" stroke="#1a1a1a" stroke-width="1.0" />
<path d="M55.00,296.30 Q60.80,298.10 66.60,296.30 Q68.60,296.30 68.60,298.30 Q69.80,302.55 68.60,306.80 Q68.60,308.80 66.60,308.80 Q60.80,307.00 55.00,308.80 Q53.00,308.80 53.00,306.80 Q51.80,302.55 53.00,298.30 Q53.00,296.30 55.00,296.30 Z" fill="#050505" filter="url(#bl08)"/>
<path d="M74.20,296.30 Q79.30,298.10 84.40,296.30 Q86.40,296.30 86.40,298.30 Q87.60,302.55 86.40,306.80 Q86.40,308.80 84.40,308.80 Q79.30,307.00 74.20,308.80 Q72.20,308.80 72.20,306.80 Q71.00,302.55 72.20,298.30 Q72.20,296.30 74.20,296.30 Z" fill="#050505" filter="url(#bl08)"/>
<path d="M93.00,296.30 Q97.50,298.10 102.00,296.30 Q104.00,296.30 104.00,298.30 Q105.20,302.55 104.00,306.80 Q104.00,308.80 102.00,308.80 Q97.50,307.00 93.00,308.80 Q91.00,308.80 91.00,306.80 Q89.80,302.55 91.00,298.30 Q91.00,296.30 93.00,296.30 Z" fill="#050505" filter="url(#bl08)"/>
<path d="M110.20,296.30 Q115.60,298.10 121.00,296.30 Q123.00,296.30 123.00,298.30 Q124.20,302.55 123.00,306.80 Q123.00,308.80 121.00,308.80 Q115.60,307.00 110.20,308.80 Q108.20,308.80 108.20,306.80 Q107.00,302.55 108.20,298.30 Q108.20,296.30 110.20,296.30 Z" fill="#050505" filter="url(#bl08)"/>
<rect x="47.00" y="293.80" width="80.00" height="16.80" fill="none" stroke="#1a1a1a" stroke-width="1.0" />
<text x="130.40" y="284.60" font-size="7.3" text-anchor="start" font-weight="normal" fill="#222" dominant-baseline="central" >106 kD</text>
<text x="130.40" y="302.20" font-size="7.3" text-anchor="start" font-weight="normal" fill="#222" dominant-baseline="central" >48 kD</text>
<text x="59.80" y="317.30" font-size="7.3" text-anchor="middle" font-weight="normal" fill="#222" dominant-baseline="central" >-</text>
<text x="78.00" y="317.30" font-size="7.3" text-anchor="middle" font-weight="normal" fill="#222" dominant-baseline="central" >+</text>
<text x="97.00" y="317.30" font-size="7.3" text-anchor="middle" font-weight="normal" fill="#222" dominant-baseline="central" >+</text>
<text x="115.50" y="317.30" font-size="7.3" text-anchor="middle" font-weight="normal" fill="#222" dominant-baseline="central" >+</text>
<text x="59.80" y="327.40" font-size="7.3" text-anchor="middle" font-weight="normal" fill="#222" dominant-baseline="central" >0</text>
<text x="78.00" y="327.40" font-size="7.3" text-anchor="middle" font-weight="normal" fill="#222" dominant-baseline="central" >0</text>
<text x="97.00" y="327.40" font-size="7.3" text-anchor="middle" font-weight="normal" fill="#222" dominant-baseline="central" >50</text>
<text x="115.50" y="327.40" font-size="7.3" text-anchor="middle" font-weight="normal" fill="#222" dominant-baseline="central" >100</text>
<line x1="179.60" y1="269.20" x2="179.60" y2="335.00" stroke="#222" stroke-width="0.8" />
<line x1="179.60" y1="334.90" x2="245.00" y2="334.90" stroke="#222" stroke-width="0.8" />
<line x1="177.60" y1="269.50" x2="179.60" y2="269.50" stroke="#222" stroke-width="0.7" />
<text x="177.00" y="269.50" font-size="7" text-anchor="end" font-weight="bold" fill="#222" dominant-baseline="central" >1.5</text>
<line x1="177.60" y1="291.20" x2="179.60" y2="291.20" stroke="#222" stroke-width="0.7" />
<text x="177.00" y="291.20" font-size="7" text-anchor="end" font-weight="bold" fill="#222" dominant-baseline="central" >1.0</text>
<line x1="177.60" y1="312.90" x2="179.60" y2="312.90" stroke="#222" stroke-width="0.7" />
<text x="177.00" y="312.90" font-size="7" text-anchor="end" font-weight="bold" fill="#222" dominant-baseline="central" >0.5</text>
<line x1="177.60" y1="334.60" x2="179.60" y2="334.60" stroke="#222" stroke-width="0.7" />
<text x="177.00" y="334.60" font-size="7" text-anchor="end" font-weight="bold" fill="#222" dominant-baseline="central" >0.0</text>
<text x="160.00" y="289.30" font-size="7.0" text-anchor="middle" font-weight="bold" fill="#222" dominant-baseline="central" transform="rotate(-90 160 289.3)">Relative Abundance(%)</text>
<text x="211.50" y="255.80" font-size="7.2" text-anchor="middle" font-weight="bold" fill="#222" dominant-baseline="central" >HA-P115 RhoGEF</text>
<line x1="190.80" y1="334.90" x2="190.80" y2="336.90" stroke="#222" stroke-width="0.7" />
<line x1="206.40" y1="334.90" x2="206.40" y2="336.90" stroke="#222" stroke-width="0.7" />
<rect x="201.30" y="291.20" width="10.20" height="43.40" fill="#f52a1a" stroke="none" stroke-width="0" />
<line x1="206.40" y1="291.20" x2="206.40" y2="289.25" stroke="#f52a1a" stroke-width="0.7" />
<line x1="202.90" y1="289.25" x2="209.90" y2="289.25" stroke="#f52a1a" stroke-width="0.7" />
<line x1="221.60" y1="334.90" x2="221.60" y2="336.90" stroke="#222" stroke-width="0.7" />
<rect x="216.50" y="321.58" width="10.20" height="13.02" fill="#44dd22" stroke="none" stroke-width="0" />
<line x1="221.60" y1="321.58" x2="221.60" y2="319.41" stroke="#44dd22" stroke-width="0.7" />
<line x1="218.10" y1="319.41" x2="225.10" y2="319.41" stroke="#44dd22" stroke-width="0.7" />
<line x1="237.00" y1="334.90" x2="237.00" y2="336.90" stroke="#222" stroke-width="0.7" />
<rect x="231.90" y="331.13" width="10.20" height="3.47" fill="#b83af0" stroke="none" stroke-width="0" />
<line x1="237.00" y1="331.13" x2="237.00" y2="330.26" stroke="#b83af0" stroke-width="0.7" />
<line x1="233.50" y1="330.26" x2="240.50" y2="330.26" stroke="#b83af0" stroke-width="0.7" />
<text x="191.00" y="343.40" font-size="7.2" text-anchor="middle" font-weight="bold" fill="#222" dominant-baseline="central" >0</text>
<text x="206.70" y="343.40" font-size="7.2" text-anchor="middle" font-weight="bold" fill="#222" dominant-baseline="central" >0</text>
<text x="221.70" y="343.40" font-size="7.2" text-anchor="middle" font-weight="bold" fill="#222" dominant-baseline="central" >50</text>
<text x="237.40" y="343.40" font-size="7.2" text-anchor="middle" font-weight="bold" fill="#222" dominant-baseline="central" >100</text>
<text x="191.00" y="351.00" font-size="7.2" text-anchor="middle" font-weight="bold" fill="#222" dominant-baseline="central" >-</text>
<text x="206.70" y="351.00" font-size="7.2" text-anchor="middle" font-weight="bold" fill="#222" dominant-baseline="central" >+</text>
<text x="221.70" y="351.00" font-size="7.2" text-anchor="middle" font-weight="bold" fill="#222" dominant-baseline="central" >+</text>
<text x="237.40" y="351.00" font-size="7.2" text-anchor="middle" font-weight="bold" fill="#222" dominant-baseline="central" >+</text>
<text x="183.00" y="343.20" font-size="6.7" text-anchor="end" font-weight="bold" fill="#222" dominant-baseline="central" >GL-V9 (μM)</text>
<text x="183.00" y="350.80" font-size="6.7" text-anchor="end" font-weight="bold" fill="#222" dominant-baseline="central" >Cell lysates</text>
<line x1="205.90" y1="273.40" x2="236.80" y2="273.40" stroke="#222" stroke-width="0.8" />
<line x1="205.90" y1="283.40" x2="221.40" y2="283.40" stroke="#222" stroke-width="0.8" />
<text x="221.30" y="270.20" font-size="10.5" text-anchor="middle" font-weight="bold" fill="#222" dominant-baseline="central" textLength="19" lengthAdjust="spacingAndGlyphs">****</text>
<text x="213.60" y="280.30" font-size="10.5" text-anchor="middle" font-weight="bold" fill="#222" dominant-baseline="central" textLength="15.5" lengthAdjust="spacingAndGlyphs">****</text>
<text x="260.40" y="250.50" font-size="12" text-anchor="start" font-weight="normal" fill="#222" dominant-baseline="central" >H</text>
<text x="291.80" y="285.90" font-size="7.3" text-anchor="end" font-weight="normal" fill="#222" dominant-baseline="central" >HA-RhoA</text>
<text x="289.20" y="303.90" font-size="7.3" text-anchor="end" font-weight="normal" fill="#222" dominant-baseline="central" >GST</text>
<text x="290.80" y="318.60" font-size="7.3" text-anchor="end" font-weight="normal" fill="#222" dominant-baseline="central" >GL-V9</text>
<defs><linearGradient id="bg1095" x1="0" y1="0" x2="0" y2="1"><stop offset="0" stop-color="#7c8090"/><stop offset="0.22" stop-color="#9296a4"/><stop offset="0.78" stop-color="#9296a4"/><stop offset="1" stop-color="#7c8090"/></linearGradient></defs>
<rect x="298.30" y="278.00" width="77.50" height="13.70" fill="url(#bg1095)" stroke="none" stroke-width="0" />
<rect x="317.00" y="278.00" width="3.00" height="13.70" fill="#a8acb8" stroke="none" stroke-width="0" opacity="0.3" filter="url(#bl05)"/>
<rect x="335.00" y="278.00" width="3.00" height="13.70" fill="#a8acb8" stroke="none" stroke-width="0" opacity="0.25" filter="url(#bl05)"/>
<rect x="353.00" y="278.00" width="3.00" height="13.70" fill="#a8acb8" stroke="none" stroke-width="0" opacity="0.25" filter="url(#bl05)"/>
<rect x="302.40" y="284.00" width="14.00" height="2.60" rx="1.30" fill="#0a0a0a" opacity="0.90" filter="url(#bl05)"/>
<rect x="303.15" y="279.90" width="12.50" height="1.80" rx="0.90" fill="#0a0a0a" opacity="0.60" filter="url(#bl05)"/>
<rect x="321.00" y="284.70" width="12.00" height="1.80" rx="0.90" fill="#0a0a0a" opacity="0.35" filter="url(#bl05)"/>
<rect x="338.20" y="284.00" width="14.00" height="2.40" rx="1.20" fill="#0a0a0a" opacity="0.85" filter="url(#bl05)"/>
<rect x="357.10" y="284.20" width="13.00" height="2.20" rx="1.10" fill="#0a0a0a" opacity="0.65" filter="url(#bl05)"/>
<rect x="339.00" y="280.10" width="12.00" height="1.40" rx="0.70" fill="#0a0a0a" opacity="0.25" filter="url(#bl05)"/>
<rect x="321.00" y="280.30" width="12.00" height="1.40" rx="0.70" fill="#0a0a0a" opacity="0.18" filter="url(#bl05)"/>
<rect x="298.30" y="278.00" width="77.50" height="13.70" fill="none" stroke="#1a1a1a" stroke-width="1.0" />
<defs><linearGradient id="bg1108" x1="0" y1="0" x2="0" y2="1"><stop offset="0" stop-color="#8e92a0"/><stop offset="0.22" stop-color="#b0b2be"/><stop offset="0.78" stop-color="#b0b2be"/><stop offset="1" stop-color="#8e92a0"/></linearGradient></defs>
<rect x="298.30" y="296.80" width="77.50" height="13.70" fill="url(#bg1108)" stroke="none" stroke-width="0" />
<rect x="317.00" y="296.80" width="3.00" height="13.70" fill="#c0c2cc" stroke="none" stroke-width="0" opacity="0.3" filter="url(#bl05)"/>
<rect x="335.00" y="296.80" width="3.00" height="13.70" fill="#c0c2cc" stroke="none" stroke-width="0" opacity="0.25" filter="url(#bl05)"/>
<rect x="353.00" y="296.80" width="3.00" height="13.70" fill="#c0c2cc" stroke="none" stroke-width="0" opacity="0.25" filter="url(#bl05)"/>
<rect x="302.25" y="300.30" width="14.50" height="3.40" rx="1.70" fill="#0a0a0a" opacity="1.00" filter="url(#bl05)"/>
<rect x="320.30" y="300.50" width="14.00" height="3.20" rx="1.60" fill="#0a0a0a" opacity="0.95" filter="url(#bl05)"/>
<rect x="338.25" y="301.10" width="13.50" height="3.00" rx="1.50" fill="#0a0a0a" opacity="0.95" filter="url(#bl05)"/>
<rect x="356.60" y="300.90" width="14.00" height="3.40" rx="1.70" fill="#0a0a0a" opacity="1.00" filter="url(#bl05)"/>
<rect x="298.30" y="296.80" width="77.50" height="13.70" fill="none" stroke="#1a1a1a" stroke-width="1.0" />
<text x="380.90" y="286.40" font-size="7.3" text-anchor="start" font-weight="normal" fill="#222" dominant-baseline="central" >25 kD</text>
<text x="380.90" y="303.40" font-size="7.3" text-anchor="start" font-weight="normal" fill="#222" dominant-baseline="central" >70 kD</text>
<text x="310.80" y="318.20" font-size="7.3" text-anchor="middle" font-weight="normal" fill="#222" dominant-baseline="central" >-</text>
<text x="329.50" y="318.20" font-size="7.3" text-anchor="middle" font-weight="normal" fill="#222" dominant-baseline="central" >+</text>
<text x="348.80" y="318.20" font-size="7.3" text-anchor="middle" font-weight="normal" fill="#222" dominant-baseline="central" >-</text>
<text x="367.60" y="318.20" font-size="7.3" text-anchor="middle" font-weight="normal" fill="#222" dominant-baseline="central" >+</text>
<line x1="306.00" y1="324.80" x2="334.60" y2="324.80" stroke="#666" stroke-width="0.8" />
<line x1="345.50" y1="324.80" x2="374.50" y2="324.80" stroke="#666" stroke-width="0.8" />
<text x="321.30" y="333.20" font-size="7.3" text-anchor="middle" font-weight="normal" fill="#222" dominant-baseline="central" >WT</text>
<text x="360.20" y="333.20" font-size="7.3" text-anchor="middle" font-weight="normal" fill="#222" dominant-baseline="central" >922R&gt;A</text>
<line x1="428.30" y1="268.20" x2="428.30" y2="334.40" stroke="#222" stroke-width="0.8" />
<line x1="428.30" y1="334.30" x2="495.60" y2="334.30" stroke="#222" stroke-width="0.8" />
<line x1="426.30" y1="268.50" x2="428.30" y2="268.50" stroke="#222" stroke-width="0.7" />
<text x="425.70" y="268.50" font-size="7" text-anchor="end" font-weight="bold" fill="#222" dominant-baseline="central" >1.5</text>
<line x1="426.30" y1="290.30" x2="428.30" y2="290.30" stroke="#222" stroke-width="0.7" />
<text x="425.70" y="290.30" font-size="7" text-anchor="end" font-weight="bold" fill="#222" dominant-baseline="central" >1.0</text>
<line x1="426.30" y1="312.10" x2="428.30" y2="312.10" stroke="#222" stroke-width="0.7" />
<text x="425.70" y="312.10" font-size="7" text-anchor="end" font-weight="bold" fill="#222" dominant-baseline="central" >0.5</text>
<line x1="426.30" y1="333.90" x2="428.30" y2="333.90" stroke="#222" stroke-width="0.7" />
<text x="425.70" y="333.90" font-size="7" text-anchor="end" font-weight="bold" fill="#222" dominant-baseline="central" >0.0</text>
<text x="410.40" y="296.40" font-size="7.0" text-anchor="middle" font-weight="bold" fill="#222" dominant-baseline="central" transform="rotate(-90 410.4 296.4)">Relative Abundance(%)</text>
<text x="462.60" y="257.60" font-size="7.2" text-anchor="middle" font-weight="bold" fill="#222" dominant-baseline="central" >HA-RhoA</text>
<rect x="434.10" y="290.30" width="10.20" height="43.60" fill="#2a1ef5" stroke="none" stroke-width="0" />
<line x1="439.20" y1="334.30" x2="439.20" y2="336.30" stroke="#222" stroke-width="0.7" />
<rect x="449.40" y="326.92" width="10.20" height="6.98" fill="#f52a1a" stroke="none" stroke-width="0" />
<line x1="454.50" y1="326.92" x2="454.50" y2="324.74" stroke="#f52a1a" stroke-width="0.7" />
<line x1="451.00" y1="324.74" x2="458.00" y2="324.74" stroke="#f52a1a" stroke-width="0.7" />
<line x1="454.50" y1="334.30" x2="454.50" y2="336.30" stroke="#222" stroke-width="0.7" />
<rect x="464.80" y="291.17" width="10.20" height="42.73" fill="#44dd22" stroke="none" stroke-width="0" />
<line x1="469.90" y1="291.17" x2="469.90" y2="288.56" stroke="#44dd22" stroke-width="0.7" />
<line x1="466.40" y1="288.56" x2="473.40" y2="288.56" stroke="#44dd22" stroke-width="0.7" />
<line x1="469.90" y1="334.30" x2="469.90" y2="336.30" stroke="#222" stroke-width="0.7" />
<rect x="480.20" y="295.10" width="10.20" height="38.80" fill="#c23af0" stroke="none" stroke-width="0" />
<line x1="485.30" y1="295.10" x2="485.30" y2="293.35" stroke="#c23af0" stroke-width="0.7" />
<line x1="481.80" y1="293.35" x2="488.80" y2="293.35" stroke="#c23af0" stroke-width="0.7" />
<line x1="485.30" y1="334.30" x2="485.30" y2="336.30" stroke="#222" stroke-width="0.7" />
<text x="439.20" y="340.50" font-size="7.2" text-anchor="middle" font-weight="bold" fill="#222" dominant-baseline="central" >-</text>
<text x="454.50" y="340.50" font-size="7.2" text-anchor="middle" font-weight="bold" fill="#222" dominant-baseline="central" >+</text>
<text x="469.90" y="340.50" font-size="7.2" text-anchor="middle" font-weight="bold" fill="#222" dominant-baseline="central" >-</text>
<text x="485.30" y="340.50" font-size="7.2" text-anchor="middle" font-weight="bold" fill="#222" dominant-baseline="central" >+</text>
<line x1="435.40" y1="345.00" x2="458.50" y2="345.00" stroke="#222" stroke-width="0.8" />
<line x1="464.70" y1="345.00" x2="490.60" y2="345.00" stroke="#222" stroke-width="0.8" />
<text x="446.80" y="350.60" font-size="7" text-anchor="middle" font-weight="bold" fill="#222" dominant-baseline="central" >WT</text>
<text x="477.60" y="350.60" font-size="7" text-anchor="middle" font-weight="bold" fill="#222" dominant-baseline="central" >922R&gt;A</text>
<line x1="439.20" y1="284.90" x2="455.50" y2="284.90" stroke="#222" stroke-width="0.8" />
<line x1="470.30" y1="284.90" x2="485.70" y2="284.90" stroke="#222" stroke-width="0.8" />
<text x="446.60" y="281.60" font-size="10.5" text-anchor="middle" font-weight="bold" fill="#222" dominant-baseline="central" textLength="19" lengthAdjust="spacingAndGlyphs">****</text>
<text x="478.20" y="280.20" font-size="7.2" text-anchor="middle" font-weight="normal" fill="#222" dominant-baseline="central" >ns</text>
</svg></body></html>
